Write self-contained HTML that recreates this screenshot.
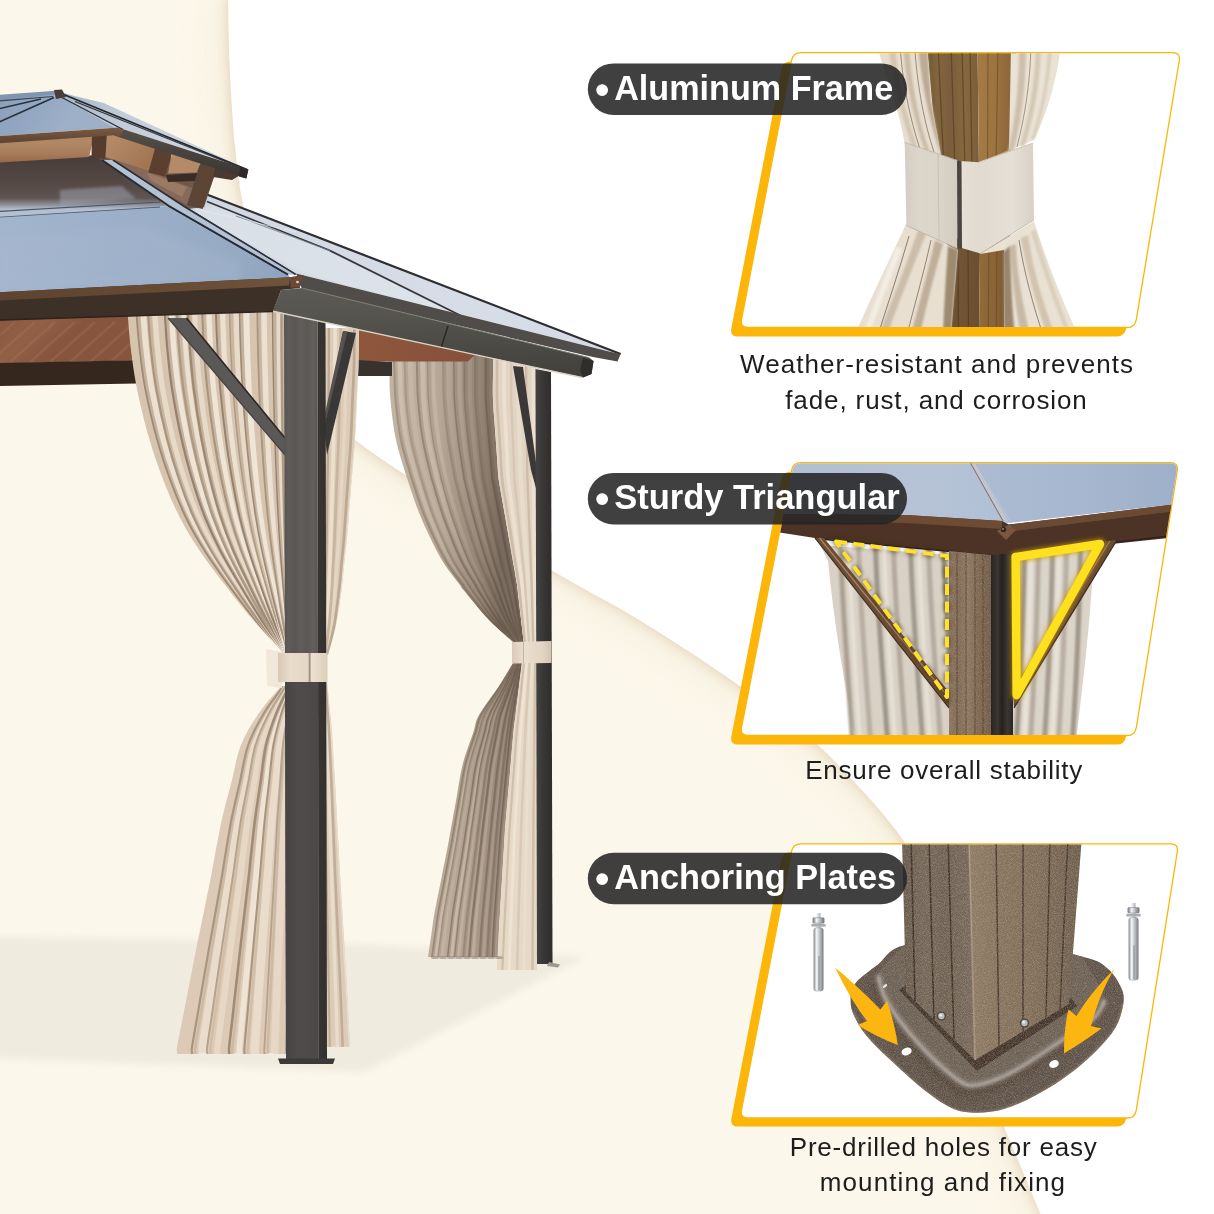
<!DOCTYPE html>
<html lang="en"><head><meta charset="utf-8"><title>Gazebo features</title>
<style>
html,body{margin:0;padding:0;background:#fbf7ea;}
body{width:1214px;height:1214px;overflow:hidden;}
svg{display:block;}
text{font-family:"Liberation Sans",sans-serif;}
</style></head><body>
<svg width="1214" height="1214" viewBox="0 0 1214 1214">
<defs>
<filter id="wblur" x="-30%" y="-30%" width="160%" height="160%"><feGaussianBlur stdDeviation="26"/></filter>
<filter id="wblur2" x="-30%" y="-30%" width="160%" height="160%"><feGaussianBlur stdDeviation="7"/></filter>
<filter id="sblur" x="-10%" y="-20%" width="120%" height="140%"><feGaussianBlur stdDeviation="3.5"/></filter>
<filter id="b1"><feGaussianBlur stdDeviation="0.7"/></filter>
<filter id="b2"><feGaussianBlur stdDeviation="1.6"/></filter>
<filter id="b4"><feGaussianBlur stdDeviation="4"/></filter>
<filter id="b8"><feGaussianBlur stdDeviation="9"/></filter>
<linearGradient id="wd1" gradientUnits="userSpaceOnUse" x1="0" y1="322" x2="40" y2="364"><stop offset="0" stop-color="#8a5740"/><stop offset="0.5" stop-color="#925f47"/><stop offset="1" stop-color="#87543e"/></linearGradient>
<clipPath id="cwd1"><polygon points="-2,322 128.5,319 132.5,360.5 -2,363.5"/></clipPath>
<clipPath id="cbk1"><path d="M388.0,341.0 C388.1,341.7 388.0,339.8 388.2,345.0 C388.4,350.2 389.0,363.3 389.4,372.5 C389.7,381.7 389.4,388.8 390.5,400.0 C391.6,411.2 393.2,427.0 396.0,440.0 C398.8,453.0 405.1,471.5 407.0,478.0 C408.9,484.5 405.2,472.8 407.4,479.0 C409.5,485.2 414.5,501.8 420.0,515.0 C425.5,528.2 434.0,546.4 440.6,558.0 C447.2,569.6 455.7,579.2 459.6,584.5 C463.4,589.8 458.9,584.4 463.5,590.0 C468.1,595.6 478.8,609.3 487.0,618.0 C495.2,626.7 508.7,638.0 513.0,642.0 L523.7,642.0 C523.2,638.0 521.9,626.7 520.9,618.0 C519.9,609.3 518.3,595.6 517.6,590.0 C517.0,584.4 517.9,589.8 517.0,584.5 C516.1,579.2 514.4,569.6 512.4,558.0 C510.4,546.4 507.2,528.2 504.9,515.0 C502.6,501.8 499.7,485.2 498.6,479.0 C497.5,472.8 499.0,484.5 498.5,478.0 C498.1,471.5 496.8,453.0 495.8,440.0 C494.9,427.0 493.5,411.2 493.0,400.0 C492.5,388.8 493.0,381.7 493.0,372.5 C493.0,363.3 493.0,350.2 493.0,345.0 C493.0,339.8 493.0,341.7 493.0,341.0 Z"/></clipPath>
<linearGradient id="shbk1" gradientUnits="userSpaceOnUse" x1="388" y1="0" x2="500" y2="0"><stop offset="0" stop-color="rgba(90,72,58,0)"/><stop offset="0.45" stop-color="rgba(90,72,58,0.12)"/><stop offset="0.8" stop-color="rgba(80,64,52,0.42)"/><stop offset="1" stop-color="rgba(70,56,46,0.62)"/></linearGradient>
<clipPath id="cbk2"><path d="M493.0,350.0 C493.0,354.2 493.0,366.7 493.0,375.0 C493.0,383.3 492.7,391.4 493.0,400.0 C493.3,408.6 494.2,417.6 494.9,426.3 C495.5,435.1 496.1,443.9 496.7,452.7 C497.4,461.4 497.5,470.2 498.6,479.0 C499.7,487.8 501.7,496.6 503.2,505.4 C504.7,514.2 506.3,523.0 507.8,531.8 C509.3,540.5 510.9,549.3 512.4,558.1 C513.9,566.9 515.7,575.3 517.0,584.5 C518.3,593.7 519.2,603.7 520.4,613.2 C521.5,622.8 523.1,637.2 523.7,642.0 L536.0,642.0 C536.0,637.2 536.0,622.8 536.0,613.2 C536.0,603.7 536.0,593.7 536.0,584.5 C536.0,575.3 536.0,566.9 536.0,558.1 C536.0,549.3 536.0,540.5 536.0,531.8 C536.0,523.0 536.0,514.2 536.0,505.4 C536.0,496.6 536.0,487.8 536.0,479.0 C536.0,470.2 536.0,461.4 536.0,452.7 C536.0,443.9 536.0,435.1 536.0,426.3 C536.0,417.6 536.0,408.6 536.0,400.0 C536.0,391.4 536.0,383.3 536.0,375.0 C536.0,366.7 536.0,354.2 536.0,350.0 Z"/></clipPath>
<linearGradient id="wd2" gradientUnits="userSpaceOnUse" x1="358" y1="330" x2="470" y2="360"><stop offset="0" stop-color="#8f573c"/><stop offset="1" stop-color="#86503a"/></linearGradient>
<clipPath id="cbk3"><path d="M513.5,662.0 C511.1,666.0 504.8,677.2 499.0,686.0 C493.2,694.8 483.3,707.3 479.0,715.0 C474.7,722.7 476.1,723.7 473.4,732.0 C470.6,740.3 465.3,754.1 462.5,765.0 C459.7,775.9 458.6,786.7 456.6,797.5 C454.6,808.3 452.2,821.8 450.7,830.0 C449.2,838.2 449.2,838.7 447.6,847.0 C446.0,855.3 443.2,869.0 441.1,880.0 C438.9,891.0 436.0,904.8 434.5,913.0 C433.0,921.2 433.2,921.7 432.1,929.0 C431.1,936.3 428.7,952.3 428.0,957.0 L498.0,957.0 C498.2,952.3 498.7,936.3 499.0,929.0 C499.3,921.7 499.5,921.2 500.0,913.0 C500.5,904.8 501.3,891.0 502.0,880.0 C502.6,869.0 503.5,855.3 504.0,847.0 C504.5,838.7 504.4,838.2 505.0,830.0 C505.6,821.8 506.9,808.3 507.8,797.5 C508.8,786.7 509.7,775.9 510.6,765.0 C511.6,754.1 512.7,740.3 513.5,732.0 C514.3,723.7 514.6,722.7 515.6,715.0 C516.5,707.3 518.0,694.8 519.1,686.0 C520.2,677.2 521.5,666.0 522.0,662.0 Z"/></clipPath>
<linearGradient id="shbk3" gradientUnits="userSpaceOnUse" x1="428" y1="0" x2="522" y2="0"><stop offset="0" stop-color="rgba(90,72,58,0)"/><stop offset="0.4" stop-color="rgba(90,72,58,0.15)"/><stop offset="0.8" stop-color="rgba(80,64,52,0.4)"/><stop offset="1" stop-color="rgba(70,56,46,0.55)"/></linearGradient>
<clipPath id="cbk4"><path d="M522.0,662.0 C521.3,667.8 519.2,685.3 517.8,697.0 C516.3,708.7 514.7,720.7 513.5,732.0 C512.3,743.3 511.6,753.8 510.7,764.7 C509.7,775.6 508.8,786.4 507.8,797.3 C506.9,808.2 505.8,819.1 505.0,830.0 C504.2,840.9 503.7,852.0 503.0,863.0 C502.3,874.0 501.7,885.0 501.0,896.0 C500.3,907.0 499.7,916.7 499.0,929.0 C498.3,941.3 497.3,963.2 497.0,970.0 L537.0,970.0 C537.0,963.2 537.0,941.3 537.0,929.0 C537.0,916.7 537.0,907.0 537.0,896.0 C537.0,885.0 537.0,874.0 537.0,863.0 C537.0,852.0 537.0,840.9 537.0,830.0 C537.0,819.1 537.0,808.2 537.0,797.3 C537.0,786.4 537.0,775.6 537.0,764.7 C537.0,753.8 537.0,743.3 537.0,732.0 C537.0,720.7 537.0,708.7 537.0,697.0 C537.0,685.3 537.0,667.8 537.0,662.0 Z"/></clipPath>
<clipPath id="csd1"><path d="M322.0,328.0 C322.0,328.3 322.0,323.8 322.0,330.0 C322.0,336.2 322.0,353.0 322.0,365.0 C322.0,377.0 322.0,389.7 322.0,402.0 C322.0,414.3 322.0,427.8 322.0,439.0 C322.0,450.2 322.0,459.3 322.0,469.5 C322.0,479.7 322.0,488.6 322.0,500.0 C322.0,511.4 322.0,527.3 322.0,538.0 C322.0,548.7 322.0,555.3 322.0,564.0 C322.0,572.7 322.0,579.8 322.0,590.0 C322.0,600.2 322.0,614.2 322.0,625.0 C322.0,635.8 322.0,650.0 322.0,655.0 L328.0,655.0 C329.3,650.0 333.8,635.8 336.0,625.0 C338.2,614.2 340.1,600.2 341.5,590.0 C342.9,579.8 343.3,572.7 344.2,564.0 C345.2,555.3 346.0,548.7 347.0,538.0 C348.0,527.3 349.1,511.4 350.0,500.0 C350.9,488.6 351.7,479.7 352.5,469.5 C353.3,459.3 354.3,450.2 355.0,439.0 C355.7,427.8 356.2,414.3 356.8,402.0 C357.3,389.7 358.1,377.0 358.5,365.0 C358.9,353.0 358.9,336.2 359.0,330.0 C359.1,323.8 359.0,328.3 359.0,328.0 Z"/></clipPath>
<clipPath id="csd2"><path d="M320.0,681.0 C320.0,685.3 320.0,698.3 320.0,707.0 C320.0,715.7 320.0,720.5 320.0,733.0 C320.0,745.5 320.0,770.8 320.0,782.0 C320.0,793.2 320.0,790.8 320.0,800.0 C320.0,809.2 320.0,824.7 320.0,837.0 C320.0,849.3 320.0,862.7 320.0,874.0 C320.0,885.3 320.0,894.7 320.0,905.0 C320.0,915.3 320.0,925.7 320.0,936.0 C320.0,946.3 320.0,956.7 320.0,967.0 C320.0,977.3 320.0,984.7 320.0,998.0 C320.0,1011.3 320.0,1038.8 320.0,1047.0 L350.0,1047.0 C349.6,1038.8 348.2,1011.3 347.5,998.0 C346.8,984.7 346.2,977.3 345.6,967.0 C345.0,956.7 344.4,946.3 343.8,936.0 C343.1,925.7 342.5,915.3 341.9,905.0 C341.2,894.7 340.6,885.3 340.0,874.0 C339.4,862.7 338.7,849.3 338.0,837.0 C337.3,824.7 336.5,809.2 336.0,800.0 C335.5,790.8 335.7,793.2 335.0,782.0 C334.3,770.8 332.9,745.5 332.0,733.0 C331.1,720.5 330.3,715.7 329.5,707.0 C328.7,698.3 327.4,685.3 327.0,681.0 Z"/></clipPath>
<clipPath id="cfr1"><path d="M128.0,312.0 C128.0,313.0 127.5,311.7 128.0,318.0 C128.5,324.3 129.5,338.2 131.0,350.0 C132.5,361.8 134.0,374.3 137.0,389.0 C140.0,403.7 144.6,422.8 149.0,438.0 C153.4,453.2 158.2,466.8 163.3,480.0 C168.4,493.2 173.7,505.4 179.6,517.0 C185.5,528.6 191.6,538.6 199.0,549.7 C206.4,560.8 214.9,571.9 224.0,583.7 C233.1,595.6 244.5,610.1 253.7,620.8 C262.9,631.5 274.4,642.6 279.0,648.0 C283.6,653.4 280.7,652.2 281.0,653.0 L290.0,653.0 C290.0,652.2 290.0,653.4 290.0,648.0 C290.0,642.6 290.0,631.5 290.0,620.8 C290.0,610.1 290.0,595.6 290.0,583.7 C290.0,571.9 290.0,560.8 290.0,549.7 C290.0,538.6 290.0,528.6 290.0,517.0 C290.0,505.4 290.0,493.2 290.0,480.0 C290.0,466.8 290.0,453.2 290.0,438.0 C290.0,422.8 290.0,403.7 290.0,389.0 C290.0,374.3 290.0,361.8 290.0,350.0 C290.0,338.2 290.0,324.3 290.0,318.0 C290.0,311.7 290.0,313.0 290.0,312.0 Z"/></clipPath>
<clipPath id="cfr2"><path d="M281.0,686.0 C277.3,690.5 265.7,703.2 259.0,713.0 C252.3,722.8 245.6,733.5 241.0,745.0 C236.4,756.5 234.7,769.7 231.5,782.0 C228.3,794.3 224.9,806.0 222.0,819.0 C219.1,832.0 215.8,850.8 214.0,860.0 C212.2,869.2 212.9,866.9 211.5,874.0 C210.1,881.1 207.6,893.1 205.7,902.7 C203.7,912.2 201.8,921.8 199.8,931.3 C197.9,940.9 195.9,950.4 194.0,960.0 C192.1,969.6 190.2,979.3 188.3,989.0 C186.4,998.7 184.6,1008.3 182.7,1018.0 C180.8,1027.7 177.9,1041.3 177.0,1047.0 C176.1,1052.7 177.0,1050.8 177.0,1052.0 C177.0,1053.2 177.0,1053.7 177.0,1054.0 L300.0,1054.0 C300.0,1053.7 300.0,1053.2 300.0,1052.0 C300.0,1050.8 300.0,1052.7 300.0,1047.0 C300.0,1041.3 300.0,1027.7 300.0,1018.0 C300.0,1008.3 300.0,998.7 300.0,989.0 C300.0,979.3 300.0,969.6 300.0,960.0 C300.0,950.4 300.0,940.9 300.0,931.3 C300.0,921.8 300.0,912.2 300.0,902.7 C300.0,893.1 300.0,881.1 300.0,874.0 C300.0,866.9 300.0,869.2 300.0,860.0 C300.0,850.8 300.0,832.0 300.0,819.0 C300.0,806.0 300.0,794.3 300.0,782.0 C300.0,769.7 300.0,756.5 300.0,745.0 C300.0,733.5 300.0,722.8 300.0,713.0 C300.0,703.2 300.0,690.5 300.0,686.0 Z"/></clipPath>
<linearGradient id="bp" gradientUnits="userSpaceOnUse" x1="535" y1="0" x2="552" y2="0"><stop offset="0" stop-color="#474543"/><stop offset="0.45" stop-color="#3a3836"/><stop offset="1" stop-color="#2f2d2c"/></linearGradient>
<linearGradient id="tb" gradientUnits="userSpaceOnUse" x1="512" y1="0" x2="552" y2="0"><stop offset="0" stop-color="#d9cab7"/><stop offset="0.3" stop-color="#ebdfcf"/><stop offset="0.75" stop-color="#e3d5c3"/><stop offset="1" stop-color="#d2c2ae"/></linearGradient>
<linearGradient id="mp1" gradientUnits="userSpaceOnUse" x1="284" y1="0" x2="318" y2="0"><stop offset="0" stop-color="#55524f"/><stop offset="0.12" stop-color="#5f5c5a"/><stop offset="0.3" stop-color="#595654"/><stop offset="0.5" stop-color="#605d5b"/><stop offset="0.68" stop-color="#5a5755"/><stop offset="0.85" stop-color="#625f5d"/><stop offset="1" stop-color="#5a5755"/></linearGradient>
<linearGradient id="mp2" gradientUnits="userSpaceOnUse" x1="317" y1="0" x2="327" y2="0"><stop offset="0" stop-color="#393533"/><stop offset="1" stop-color="#34302e"/></linearGradient>
<linearGradient id="mp3" gradientUnits="userSpaceOnUse" x1="285" y1="0" x2="318" y2="0"><stop offset="0" stop-color="#474443"/><stop offset="0.4" stop-color="#4e4b4a"/><stop offset="1" stop-color="#4b4847"/></linearGradient>
<linearGradient id="tf" gradientUnits="userSpaceOnUse" x1="278" y1="0" x2="328" y2="0"><stop offset="0" stop-color="#d8c9b6"/><stop offset="0.25" stop-color="#e9dccb"/><stop offset="0.6" stop-color="#e4d6c4"/><stop offset="0.64" stop-color="#8a7a68"/><stop offset="0.66" stop-color="#ece1d2"/><stop offset="1" stop-color="#dccdba"/></linearGradient>
<linearGradient id="rfR" gradientUnits="userSpaceOnUse" x1="210" y1="200" x2="600" y2="350"><stop offset="0" stop-color="#cfd7e1"/><stop offset="0.35" stop-color="#d4dbe4"/><stop offset="0.7" stop-color="#d6dde6"/><stop offset="1" stop-color="#d4dbe5"/></linearGradient>
<linearGradient id="rfF" gradientUnits="userSpaceOnUse" x1="0" y1="215" x2="280" y2="290"><stop offset="0" stop-color="#a3b5cd"/><stop offset="0.35" stop-color="#9db0c9"/><stop offset="0.6" stop-color="#99adc6"/><stop offset="0.85" stop-color="#95a9c3"/><stop offset="1" stop-color="#90a4c0"/></linearGradient>
<linearGradient id="rfF2" gradientUnits="userSpaceOnUse" x1="0" y1="230" x2="0" y2="292"><stop offset="0" stop-color="#a9bad0"/><stop offset="1" stop-color="#adbdd3"/></linearGradient>
<linearGradient id="cup" gradientUnits="userSpaceOnUse" x1="0" y1="160" x2="0" y2="216"><stop offset="0" stop-color="#493e39"/><stop offset="0.45" stop-color="#564a46"/><stop offset="0.68" stop-color="#5f5552"/><stop offset="0.8" stop-color="#8e9099"/><stop offset="0.88" stop-color="#b3bfcf"/><stop offset="1" stop-color="#b3c0d1"/></linearGradient>
<linearGradient id="uw" gradientUnits="userSpaceOnUse" x1="0" y1="143" x2="0" y2="162"><stop offset="0" stop-color="#b18865"/><stop offset="0.6" stop-color="#a57b5a"/><stop offset="1" stop-color="#96694a"/></linearGradient>
<linearGradient id="uw2" gradientUnits="userSpaceOnUse" x1="107" y1="137" x2="140" y2="170"><stop offset="0" stop-color="#b58c69"/><stop offset="1" stop-color="#a27653"/></linearGradient>
<linearGradient id="urF" gradientUnits="userSpaceOnUse" x1="0" y1="95" x2="60" y2="135"><stop offset="0" stop-color="#8aa0bc"/><stop offset="0.5" stop-color="#93a7c2"/><stop offset="1" stop-color="#9eb0c8"/></linearGradient>
<linearGradient id="urR" gradientUnits="userSpaceOnUse" x1="70" y1="95" x2="240" y2="168"><stop offset="0" stop-color="#a9b8cb"/><stop offset="0.3" stop-color="#c2ccd8"/><stop offset="1" stop-color="#d3dae3"/></linearGradient>
<linearGradient id="urFr" gradientUnits="objectBoundingBox" x1="0" y1="0" x2="0" y2="1"><stop offset="0" stop-color="#57504a"/><stop offset="1" stop-color="#3a3532"/></linearGradient>
<linearGradient id="urS" gradientUnits="userSpaceOnUse" x1="0" y1="128" x2="0" y2="144"><stop offset="0" stop-color="#7a5a42"/><stop offset="1" stop-color="#5c412f"/></linearGradient>
<linearGradient id="gut" gradientUnits="objectBoundingBox" x1="0" y1="0" x2="0.06" y2="1"><stop offset="0" stop-color="#5b5a55"/><stop offset="0.3" stop-color="#56554f"/><stop offset="0.62" stop-color="#4d4c47"/><stop offset="1" stop-color="#42413d"/></linearGradient>
<linearGradient id="fas" gradientUnits="objectBoundingBox" x1="0" y1="0" x2="1" y2="0"><stop offset="0" stop-color="#5d4430"/><stop offset="0.6" stop-color="#674b35"/><stop offset="1" stop-color="#70533a"/></linearGradient>
<filter id="p1"><feGaussianBlur stdDeviation="0.8"/></filter>
<filter id="p2"><feGaussianBlur stdDeviation="2"/></filter>
<filter id="p5"><feGaussianBlur stdDeviation="5"/></filter>
<filter id="grain" x="0" y="0" width="100%" height="100%"><feTurbulence type="fractalNoise" baseFrequency="1.1" numOctaves="2" seed="3" result="n"/><feColorMatrix in="n" type="matrix" values="0 0 0 0 0  0 0 0 0 0  0 0 0 0 0  0 0 0 -1.6 1.05" result="a"/><feComposite in="SourceGraphic" in2="a" operator="in"/></filter>
<clipPath id="pc1"><path d="M792.3,60.6 Q793.7,53.2 801.2,53.2 L1172.4,53.2 Q1179.9,53.2 1178.7,60.6 L1135.5,319.5 Q1134.3,326.9 1126.8,326.9 L748.2,326.9 Q740.7,326.9 742.1,319.5 Z"/></clipPath>
<linearGradient id="q1a" gradientUnits="userSpaceOnUse" x1="927" y1="0" x2="978" y2="0"><stop offset="0" stop-color="#6f5636"/><stop offset="0.2" stop-color="#83663f"/><stop offset="0.45" stop-color="#7a5e3a"/><stop offset="0.75" stop-color="#87693f"/><stop offset="1" stop-color="#7b5f3a"/></linearGradient>
<linearGradient id="q1b" gradientUnits="userSpaceOnUse" x1="977" y1="0" x2="1015" y2="0"><stop offset="0" stop-color="#a57c45"/><stop offset="0.5" stop-color="#9b733f"/><stop offset="1" stop-color="#86623a"/></linearGradient>
<linearGradient id="q1c" gradientUnits="userSpaceOnUse" x1="947" y1="0" x2="980" y2="0"><stop offset="0" stop-color="#644a2d"/><stop offset="0.4" stop-color="#715434"/><stop offset="1" stop-color="#6a4e30"/></linearGradient>
<linearGradient id="q1d" gradientUnits="userSpaceOnUse" x1="980" y1="0" x2="1008" y2="0"><stop offset="0" stop-color="#906a39"/><stop offset="0.5" stop-color="#8a6436"/><stop offset="1" stop-color="#775631"/></linearGradient>
<linearGradient id="tie1" gradientUnits="userSpaceOnUse" x1="905" y1="0" x2="958" y2="0"><stop offset="0" stop-color="#d6cec3"/><stop offset="0.3" stop-color="#ddd6cb"/><stop offset="0.7" stop-color="#dad3c8"/><stop offset="1" stop-color="#d3cbbf"/></linearGradient>
<linearGradient id="tie2" gradientUnits="userSpaceOnUse" x1="960" y1="0" x2="1034" y2="0"><stop offset="0" stop-color="#e6e0d7"/><stop offset="0.25" stop-color="#e1dad0"/><stop offset="0.7" stop-color="#e5dfd5"/><stop offset="1" stop-color="#d9d1c5"/></linearGradient>
<clipPath id="pc2"><path d="M792.3,470.6 Q793.7,463.2 801.2,463.2 L1170.4,463.2 Q1177.9,463.2 1176.7,470.6 L1135.5,727.5 Q1134.3,734.9 1126.8,734.9 L748.2,734.9 Q740.7,734.9 742.1,727.5 Z"/></clipPath>
<linearGradient id="g2a" gradientUnits="userSpaceOnUse" x1="790" y1="0" x2="1000" y2="0"><stop offset="0" stop-color="#b1bfd3"/><stop offset="0.6" stop-color="#b6c3d7"/><stop offset="1" stop-color="#b2c0d5"/></linearGradient>
<linearGradient id="g2b" gradientUnits="userSpaceOnUse" x1="970" y1="0" x2="1180" y2="0"><stop offset="0" stop-color="#adbcd2"/><stop offset="0.5" stop-color="#a7b7cf"/><stop offset="1" stop-color="#9eafc9"/></linearGradient>
<linearGradient id="q2a" gradientUnits="userSpaceOnUse" x1="949" y1="0" x2="991" y2="0"><stop offset="0" stop-color="#8a7560"/><stop offset="0.2" stop-color="#7d6853"/><stop offset="0.45" stop-color="#8b7661"/><stop offset="0.7" stop-color="#7a6550"/><stop offset="1" stop-color="#6e5a47"/></linearGradient>
<linearGradient id="q2b" gradientUnits="userSpaceOnUse" x1="991" y1="0" x2="1013" y2="0"><stop offset="0" stop-color="#2a2522"/><stop offset="0.3" stop-color="#3b3531"/><stop offset="0.5" stop-color="#25211f"/><stop offset="0.75" stop-color="#3d3733"/><stop offset="1" stop-color="#2b2623"/></linearGradient>
<filter id="glow" x="-20%" y="-20%" width="140%" height="140%"><feGaussianBlur stdDeviation="2.2"/></filter>
<clipPath id="pc3"><path d="M792.3,851.8 Q793.7,844.4 801.2,844.4 L1170.4,844.4 Q1177.9,844.4 1176.7,851.8 L1135.5,1110.0 Q1134.3,1117.4 1126.8,1117.4 L748.2,1117.4 Q740.7,1117.4 742.1,1110.0 Z"/></clipPath>
<clipPath id="cplate"><path d="M850.5,996.0 C851.5,993.7 851.8,987.3 856.4,982.0 C861.0,976.7 869.8,970.6 878.0,964.4 C886.2,958.2 887.1,949.1 905.8,944.7 C924.5,940.3 960.7,936.0 990.0,938.0 C1019.3,940.0 1062.2,951.4 1081.8,956.5 C1101.4,961.6 1100.9,963.1 1107.5,968.4 C1114.1,973.6 1118.7,982.1 1121.3,988.0 C1123.9,993.9 1124.3,997.4 1123.3,1004.0 C1122.3,1010.6 1120.0,1019.8 1115.4,1027.7 C1110.8,1035.6 1103.5,1043.5 1095.6,1051.4 C1087.7,1059.3 1077.9,1067.7 1068.0,1075.0 C1058.1,1082.3 1046.8,1089.4 1036.3,1095.0 C1025.8,1100.6 1014.6,1105.8 1004.7,1108.8 C994.8,1111.8 985.6,1112.7 977.0,1112.7 C968.4,1112.7 961.9,1112.4 953.3,1108.8 C944.7,1105.2 935.5,1098.6 925.6,1091.0 C915.7,1083.4 903.9,1072.5 894.0,1063.3 C884.1,1054.1 873.2,1044.2 866.3,1035.6 C859.4,1027.0 855.1,1018.5 852.5,1011.9 C849.9,1005.3 850.8,998.6 850.5,996.0 Z"/></clipPath>
<linearGradient id="q3a" gradientUnits="userSpaceOnUse" x1="902" y1="0" x2="975" y2="0"><stop offset="0" stop-color="#64574b"/><stop offset="0.3" stop-color="#716457"/><stop offset="0.6" stop-color="#6c5f52"/><stop offset="1" stop-color="#75685a"/></linearGradient>
<linearGradient id="q3b" gradientUnits="userSpaceOnUse" x1="970" y1="0" x2="1080" y2="0"><stop offset="0" stop-color="#8c7a64"/><stop offset="0.25" stop-color="#84725c"/><stop offset="0.6" stop-color="#7c6b56"/><stop offset="1" stop-color="#6b5c4c"/></linearGradient>
<linearGradient id="an818" gradientUnits="userSpaceOnUse" x1="813.75" y1="0" x2="823.25" y2="0"><stop offset="0" stop-color="#8e9196"/><stop offset="0.3" stop-color="#f4f5f6"/><stop offset="0.55" stop-color="#c9ccd0"/><stop offset="1" stop-color="#7e8186"/></linearGradient>
<linearGradient id="an1133" gradientUnits="userSpaceOnUse" x1="1128.75" y1="0" x2="1138.25" y2="0"><stop offset="0" stop-color="#8e9196"/><stop offset="0.3" stop-color="#f4f5f6"/><stop offset="0.55" stop-color="#c9ccd0"/><stop offset="1" stop-color="#7e8186"/></linearGradient>
</defs>
<rect width="1214" height="1214" fill="#fbf7ea"/>
<path d="M228.0,-5.0 C228.2,5.8 228.7,41.0 229.4,60.0 C230.1,79.0 231.1,94.6 232.0,109.0 C232.9,123.4 233.8,134.0 235.0,146.5 C236.2,159.0 237.6,172.6 239.3,184.0 C241.0,195.4 242.2,200.7 245.0,215.0 C247.8,229.3 251.0,250.0 256.0,270.0 C261.0,290.0 266.8,314.2 275.0,335.0 C283.2,355.8 291.7,377.6 305.0,395.0 C318.3,412.4 338.2,426.3 354.7,439.5 C371.2,452.7 383.4,460.2 404.0,474.0 C424.6,487.8 453.3,505.9 478.0,522.0 C502.7,538.1 527.2,555.4 552.0,570.5 C576.8,585.6 604.3,599.4 626.5,612.5 C648.7,625.6 667.1,637.4 685.0,649.0 C702.9,660.6 719.0,671.5 734.0,682.0 C749.0,692.5 761.2,701.7 775.0,712.0 C788.8,722.3 804.2,733.2 816.6,744.0 C829.0,754.8 838.5,765.4 849.5,777.0 C860.5,788.6 872.6,801.3 882.5,813.5 C892.4,825.7 901.9,836.8 909.0,850.0 C916.1,863.2 920.3,878.0 925.0,893.0 C929.7,908.0 933.0,924.7 937.0,940.0 C941.0,955.3 943.5,967.5 949.0,985.0 C954.5,1002.5 961.9,1023.8 970.0,1045.0 C978.1,1066.2 985.6,1082.8 997.8,1112.0 C1010.0,1141.2 1035.5,1202.0 1043.0,1220.0 L1224,1224 L1224,-10 Z" fill="#ecdcc2" filter="url(#wblur)" opacity="0.45"/>
<path d="M228.0,-5.0 C228.2,5.8 228.7,41.0 229.4,60.0 C230.1,79.0 231.1,94.6 232.0,109.0 C232.9,123.4 233.8,134.0 235.0,146.5 C236.2,159.0 237.6,172.6 239.3,184.0 C241.0,195.4 242.2,200.7 245.0,215.0 C247.8,229.3 251.0,250.0 256.0,270.0 C261.0,290.0 266.8,314.2 275.0,335.0 C283.2,355.8 291.7,377.6 305.0,395.0 C318.3,412.4 338.2,426.3 354.7,439.5 C371.2,452.7 383.4,460.2 404.0,474.0 C424.6,487.8 453.3,505.9 478.0,522.0 C502.7,538.1 527.2,555.4 552.0,570.5 C576.8,585.6 604.3,599.4 626.5,612.5 C648.7,625.6 667.1,637.4 685.0,649.0 C702.9,660.6 719.0,671.5 734.0,682.0 C749.0,692.5 761.2,701.7 775.0,712.0 C788.8,722.3 804.2,733.2 816.6,744.0 C829.0,754.8 838.5,765.4 849.5,777.0 C860.5,788.6 872.6,801.3 882.5,813.5 C892.4,825.7 901.9,836.8 909.0,850.0 C916.1,863.2 920.3,878.0 925.0,893.0 C929.7,908.0 933.0,924.7 937.0,940.0 C941.0,955.3 943.5,967.5 949.0,985.0 C954.5,1002.5 961.9,1023.8 970.0,1045.0 C978.1,1066.2 985.6,1082.8 997.8,1112.0 C1010.0,1141.2 1035.5,1202.0 1043.0,1220.0 L1224,1224 L1224,-10 Z" fill="#e0ccb0" filter="url(#wblur2)" opacity="0.95"/>
<path d="M228.0,-5.0 C228.2,5.8 228.7,41.0 229.4,60.0 C230.1,79.0 231.1,94.6 232.0,109.0 C232.9,123.4 233.8,134.0 235.0,146.5 C236.2,159.0 237.6,172.6 239.3,184.0 C241.0,195.4 242.2,200.7 245.0,215.0 C247.8,229.3 251.0,250.0 256.0,270.0 C261.0,290.0 266.8,314.2 275.0,335.0 C283.2,355.8 291.7,377.6 305.0,395.0 C318.3,412.4 338.2,426.3 354.7,439.5 C371.2,452.7 383.4,460.2 404.0,474.0 C424.6,487.8 453.3,505.9 478.0,522.0 C502.7,538.1 527.2,555.4 552.0,570.5 C576.8,585.6 604.3,599.4 626.5,612.5 C648.7,625.6 667.1,637.4 685.0,649.0 C702.9,660.6 719.0,671.5 734.0,682.0 C749.0,692.5 761.2,701.7 775.0,712.0 C788.8,722.3 804.2,733.2 816.6,744.0 C829.0,754.8 838.5,765.4 849.5,777.0 C860.5,788.6 872.6,801.3 882.5,813.5 C892.4,825.7 901.9,836.8 909.0,850.0 C916.1,863.2 920.3,878.0 925.0,893.0 C929.7,908.0 933.0,924.7 937.0,940.0 C941.0,955.3 943.5,967.5 949.0,985.0 C954.5,1002.5 961.9,1023.8 970.0,1045.0 C978.1,1066.2 985.6,1082.8 997.8,1112.0 C1010.0,1141.2 1035.5,1202.0 1043.0,1220.0 L1224,1224 L1224,-10 Z" fill="#ffffff"/>
<polygon points="-10.0,937.0 300.0,941.0 585.0,957.0 364.0,1072.0 -10.0,1058.0" fill="#efebdf" filter="url(#sblur)"/>
<g id="gazebo">
<polygon points="-2.0,318.0 128.5,315.0 132.5,360.5 -2.0,363.5" fill="url(#wd1)" />
<line x1="-30.0" y1="362.0" x2="15.0" y2="322.0" stroke="#a87a60" stroke-width="3" opacity="0.3" clip-path="url(#cwd1)"/>
<line x1="-10.0" y1="362.0" x2="35.0" y2="322.0" stroke="#a87a60" stroke-width="3" opacity="0.3" clip-path="url(#cwd1)"/>
<line x1="10.0" y1="362.0" x2="55.0" y2="322.0" stroke="#a87a60" stroke-width="3" opacity="0.3" clip-path="url(#cwd1)"/>
<line x1="30.0" y1="362.0" x2="75.0" y2="322.0" stroke="#a87a60" stroke-width="3" opacity="0.3" clip-path="url(#cwd1)"/>
<line x1="50.0" y1="362.0" x2="95.0" y2="322.0" stroke="#a87a60" stroke-width="3" opacity="0.3" clip-path="url(#cwd1)"/>
<line x1="70.0" y1="362.0" x2="115.0" y2="322.0" stroke="#a87a60" stroke-width="3" opacity="0.3" clip-path="url(#cwd1)"/>
<line x1="90.0" y1="362.0" x2="135.0" y2="322.0" stroke="#a87a60" stroke-width="3" opacity="0.3" clip-path="url(#cwd1)"/>
<line x1="110.0" y1="362.0" x2="155.0" y2="322.0" stroke="#a87a60" stroke-width="3" opacity="0.3" clip-path="url(#cwd1)"/>
<line x1="130.0" y1="362.0" x2="175.0" y2="322.0" stroke="#a87a60" stroke-width="3" opacity="0.3" clip-path="url(#cwd1)"/>
<polygon points="-2.0,363.0 133.0,360.3 137.0,382.0 142.0,390.5 136.0,383.5 -2.0,386.0" fill="#35261e" />
<path d="M388.0,341.0 C388.1,341.7 388.0,339.8 388.2,345.0 C388.4,350.2 389.0,363.3 389.4,372.5 C389.7,381.7 389.4,388.8 390.5,400.0 C391.6,411.2 393.2,427.0 396.0,440.0 C398.8,453.0 405.1,471.5 407.0,478.0 C408.9,484.5 405.2,472.8 407.4,479.0 C409.5,485.2 414.5,501.8 420.0,515.0 C425.5,528.2 434.0,546.4 440.6,558.0 C447.2,569.6 455.7,579.2 459.6,584.5 C463.4,589.8 458.9,584.4 463.5,590.0 C468.1,595.6 478.8,609.3 487.0,618.0 C495.2,626.7 508.7,638.0 513.0,642.0 L523.7,642.0 C523.2,638.0 521.9,626.7 520.9,618.0 C519.9,609.3 518.3,595.6 517.6,590.0 C517.0,584.4 517.9,589.8 517.0,584.5 C516.1,579.2 514.4,569.6 512.4,558.0 C510.4,546.4 507.2,528.2 504.9,515.0 C502.6,501.8 499.7,485.2 498.6,479.0 C497.5,472.8 499.0,484.5 498.5,478.0 C498.1,471.5 496.8,453.0 495.8,440.0 C494.9,427.0 493.5,411.2 493.0,400.0 C492.5,388.8 493.0,381.7 493.0,372.5 C493.0,363.3 493.0,350.2 493.0,345.0 C493.0,339.8 493.0,341.7 493.0,341.0 Z" fill="#c3b4a3"/>
<g clip-path="url(#cbk1)"><g filter="url(#b1)">
<path d="M399.0,341.0 C399.0,341.7 398.9,339.8 399.1,345.0 C399.3,350.2 399.8,363.3 400.1,372.5 C400.5,381.7 400.1,388.8 401.2,400.0 C402.2,411.2 403.8,427.0 406.4,440.0 C409.0,453.0 414.8,471.5 416.5,478.0 C418.3,484.5 414.8,472.8 416.9,479.0 C418.9,485.2 423.6,501.8 428.8,515.0 C434.0,528.2 442.0,546.4 448.1,558.0 C454.2,569.6 462.0,579.2 465.5,584.5 C469.1,589.8 465.0,584.4 469.1,590.0 C473.3,595.6 483.0,609.3 490.5,618.0 C498.0,626.7 510.2,638.0 514.1,642.0" fill="none" stroke="#d0c2b1" stroke-width="4.2" opacity="1"/>
<path d="M395.0,341.0 C395.0,341.7 395.0,339.8 395.2,345.0 C395.4,350.2 395.9,363.3 396.2,372.5 C396.6,381.7 396.2,388.8 397.3,400.0 C398.4,411.2 400.0,427.0 402.6,440.0 C405.3,453.0 411.3,471.5 413.1,478.0 C414.9,484.5 411.3,472.8 413.4,479.0 C415.5,485.2 420.3,501.8 425.6,515.0 C431.0,528.2 439.1,546.4 445.4,558.0 C451.7,569.6 459.8,579.2 463.4,584.5 C467.0,589.8 462.8,584.4 467.1,590.0 C471.4,595.6 481.5,609.3 489.3,618.0 C497.0,626.7 509.6,638.0 513.7,642.0" fill="none" stroke="#b5a594" stroke-width="2.3" opacity="0.8"/>
<path d="M393.1,341.0 C393.2,341.7 393.1,339.8 393.3,345.0 C393.5,350.2 394.0,363.3 394.4,372.5 C394.8,381.7 394.4,388.8 395.5,400.0 C396.6,411.2 398.2,427.0 400.9,440.0 C403.5,453.0 409.6,471.5 411.4,478.0 C413.3,484.5 409.7,472.8 411.8,479.0 C413.9,485.2 418.7,501.8 424.1,515.0 C429.5,528.2 437.7,546.4 444.1,558.0 C450.5,569.6 458.7,579.2 462.4,584.5 C466.0,589.8 461.7,584.4 466.1,590.0 C470.5,595.6 480.7,609.3 488.6,618.0 C496.5,626.7 509.4,638.0 513.5,642.0" fill="none" stroke="#a39382" stroke-width="2.0" opacity="1"/>
<path d="M409.7,341.0 C409.7,341.7 409.7,339.8 409.8,345.0 C410.0,350.2 410.5,363.3 410.8,372.5 C411.1,381.7 410.7,388.8 411.7,400.0 C412.6,411.2 414.2,427.0 416.6,440.0 C419.0,453.0 424.3,471.5 425.9,478.0 C427.5,484.5 424.3,472.8 426.2,479.0 C428.1,485.2 432.7,501.8 437.5,515.0 C442.4,528.2 449.8,546.4 455.4,558.0 C461.1,569.6 468.2,579.2 471.4,584.5 C474.6,589.8 470.9,584.4 474.7,590.0 C478.4,595.6 487.2,609.3 494.0,618.0 C500.8,626.7 511.7,638.0 515.2,642.0" fill="none" stroke="#cbbcab" stroke-width="5.2" opacity="1"/>
<path d="M405.8,341.0 C405.8,341.7 405.7,339.8 405.9,345.0 C406.1,350.2 406.5,363.3 406.8,372.5 C407.2,381.7 406.8,388.8 407.8,400.0 C408.8,411.2 410.4,427.0 412.8,440.0 C415.3,453.0 420.8,471.5 422.4,478.0 C424.1,484.5 420.8,472.8 422.7,479.0 C424.7,485.2 429.3,501.8 434.3,515.0 C439.3,528.2 446.9,546.4 452.7,558.0 C458.5,569.6 465.9,579.2 469.3,584.5 C472.6,589.8 468.7,584.4 472.6,590.0 C476.5,595.6 485.7,609.3 492.7,618.0 C499.7,626.7 511.1,638.0 514.8,642.0" fill="none" stroke="#b9a998" stroke-width="2.3" opacity="0.8"/>
<path d="M403.9,341.0 C403.9,341.7 403.8,339.8 404.0,345.0 C404.2,350.2 404.7,363.3 405.0,372.5 C405.3,381.7 405.0,388.8 406.0,400.0 C407.0,411.2 408.6,427.0 411.1,440.0 C413.5,453.0 419.1,471.5 420.8,478.0 C422.5,484.5 419.1,472.8 421.1,479.0 C423.1,485.2 427.8,501.8 432.8,515.0 C437.9,528.2 445.5,546.4 451.4,558.0 C457.3,569.6 464.9,579.2 468.2,584.5 C471.6,589.8 467.7,584.4 471.7,590.0 C475.7,595.6 485.0,609.3 492.1,618.0 C499.3,626.7 510.9,638.0 514.6,642.0" fill="none" stroke="#ab9b8a" stroke-width="2.0" opacity="1"/>
<path d="M422.0,341.0 C422.0,341.7 422.0,339.8 422.1,345.0 C422.3,350.2 422.6,363.3 422.9,372.5 C423.2,381.7 422.8,388.8 423.7,400.0 C424.6,411.2 426.1,427.0 428.3,440.0 C430.5,453.0 435.2,471.5 436.6,478.0 C438.0,484.5 435.1,472.8 436.9,479.0 C438.7,485.2 443.0,501.8 447.5,515.0 C452.0,528.2 458.7,546.4 463.8,558.0 C468.9,569.6 475.3,579.2 478.1,584.5 C481.0,589.8 477.7,584.4 481.0,590.0 C484.3,595.6 492.1,609.3 498.0,618.0 C503.9,626.7 513.4,638.0 516.5,642.0" fill="none" stroke="#d3c5b4" stroke-width="4.7" opacity="1"/>
<path d="M418.0,341.0 C418.1,341.7 418.0,339.8 418.2,345.0 C418.3,350.2 418.7,363.3 419.0,372.5 C419.2,381.7 418.9,388.8 419.8,400.0 C420.7,411.2 422.3,427.0 424.5,440.0 C426.8,453.0 431.7,471.5 433.2,478.0 C434.6,484.5 431.6,472.8 433.4,479.0 C435.3,485.2 439.6,501.8 444.3,515.0 C448.9,528.2 455.8,546.4 461.1,558.0 C466.4,569.6 473.0,579.2 476.0,584.5 C479.0,589.8 475.5,584.4 479.0,590.0 C482.4,595.6 490.5,609.3 496.7,618.0 C502.9,626.7 512.8,638.0 516.1,642.0" fill="none" stroke="#b5a594" stroke-width="2.3" opacity="0.8"/>
<path d="M416.2,341.0 C416.2,341.7 416.1,339.8 416.3,345.0 C416.5,350.2 416.9,363.3 417.1,372.5 C417.4,381.7 417.0,388.8 418.0,400.0 C418.9,411.2 420.5,427.0 422.8,440.0 C425.0,453.0 430.0,471.5 431.5,478.0 C433.0,484.5 429.9,472.8 431.8,479.0 C433.7,485.2 438.1,501.8 442.7,515.0 C447.4,528.2 454.5,546.4 459.8,558.0 C465.2,569.6 471.9,579.2 475.0,584.5 C478.0,589.8 474.5,584.4 478.0,590.0 C481.5,595.6 489.8,609.3 496.1,618.0 C502.4,626.7 512.6,638.0 515.9,642.0" fill="none" stroke="#9c8c7b" stroke-width="1.9" opacity="1"/>
<path d="M432.8,341.0 C432.8,341.7 432.8,339.8 432.9,345.0 C433.0,350.2 433.3,363.3 433.5,372.5 C433.8,381.7 433.4,388.8 434.2,400.0 C435.0,411.2 436.6,427.0 438.6,440.0 C440.5,453.0 444.7,471.5 446.0,478.0 C447.3,484.5 444.6,472.8 446.3,479.0 C447.9,485.2 452.0,501.8 456.2,515.0 C460.3,528.2 466.6,546.4 471.2,558.0 C475.8,569.6 481.5,579.2 484.0,584.5 C486.6,589.8 483.7,584.4 486.6,590.0 C489.5,595.6 496.3,609.3 501.5,618.0 C506.6,626.7 514.9,638.0 517.6,642.0" fill="none" stroke="#d0c2b1" stroke-width="3.6" opacity="1"/>
<path d="M428.8,341.0 C428.8,341.7 428.8,339.8 428.9,345.0 C429.1,350.2 429.4,363.3 429.6,372.5 C429.9,381.7 429.5,388.8 430.3,400.0 C431.2,411.2 432.7,427.0 434.8,440.0 C436.8,453.0 441.2,471.5 442.6,478.0 C443.9,484.5 441.1,472.8 442.8,479.0 C444.5,485.2 448.7,501.8 453.0,515.0 C457.3,528.2 463.7,546.4 468.5,558.0 C473.3,569.6 479.2,579.2 481.9,584.5 C484.6,589.8 481.5,584.4 484.5,590.0 C487.6,595.6 494.7,609.3 500.2,618.0 C505.6,626.7 514.3,638.0 517.2,642.0" fill="none" stroke="#b9a998" stroke-width="2.3" opacity="0.8"/>
<path d="M427.0,341.0 C427.0,341.7 426.9,339.8 427.1,345.0 C427.2,350.2 427.5,363.3 427.8,372.5 C428.0,381.7 427.6,388.8 428.5,400.0 C429.4,411.2 430.9,427.0 433.0,440.0 C435.1,453.0 439.6,471.5 440.9,478.0 C442.3,484.5 439.4,472.8 441.2,479.0 C442.9,485.2 447.1,501.8 451.5,515.0 C455.8,528.2 462.3,546.4 467.2,558.0 C472.1,569.6 478.1,579.2 480.9,584.5 C483.6,589.8 480.5,584.4 483.6,590.0 C486.7,595.6 494.0,609.3 499.6,618.0 C505.1,626.7 514.1,638.0 517.0,642.0" fill="none" stroke="#a39382" stroke-width="1.3" opacity="1"/>
<path d="M448.5,341.0 C448.5,341.7 448.4,339.8 448.5,345.0 C448.6,350.2 448.9,363.3 449.0,372.5 C449.2,381.7 448.8,388.8 449.5,400.0 C450.2,411.2 451.8,427.0 453.5,440.0 C455.2,453.0 458.6,471.5 459.7,478.0 C460.8,484.5 458.4,472.8 459.9,479.0 C461.4,485.2 465.2,501.8 468.9,515.0 C472.5,528.2 478.0,546.4 481.9,558.0 C485.9,569.6 490.5,579.2 492.6,584.5 C494.8,589.8 492.4,584.4 494.7,590.0 C497.0,595.6 502.4,609.3 506.5,618.0 C510.6,626.7 517.1,638.0 519.2,642.0" fill="none" stroke="#cbbcab" stroke-width="5.5" opacity="1"/>
<path d="M444.5,341.0 C444.5,341.7 444.5,339.8 444.6,345.0 C444.7,350.2 444.9,363.3 445.1,372.5 C445.3,381.7 444.9,388.8 445.6,400.0 C446.4,411.2 447.9,427.0 449.7,440.0 C451.5,453.0 455.1,471.5 456.2,478.0 C457.4,484.5 454.9,472.8 456.4,479.0 C458.0,485.2 461.9,501.8 465.7,515.0 C469.5,528.2 475.1,546.4 479.2,558.0 C483.3,569.6 488.2,579.2 490.5,584.5 C492.7,589.8 490.2,584.4 492.6,590.0 C495.1,595.6 500.9,609.3 505.2,618.0 C509.6,626.7 516.5,638.0 518.8,642.0" fill="none" stroke="#b5a594" stroke-width="2.3" opacity="0.8"/>
<path d="M442.6,341.0 C442.6,341.7 442.6,339.8 442.7,345.0 C442.8,350.2 443.1,363.3 443.3,372.5 C443.4,381.7 443.0,388.8 443.8,400.0 C444.6,411.2 446.1,427.0 447.9,440.0 C449.7,453.0 453.5,471.5 454.6,478.0 C455.8,484.5 453.2,472.8 454.8,479.0 C456.4,485.2 460.3,501.8 464.1,515.0 C468.0,528.2 473.7,546.4 477.9,558.0 C482.1,569.6 487.1,579.2 489.4,584.5 C491.7,589.8 489.1,584.4 491.7,590.0 C494.2,595.6 500.1,609.3 504.6,618.0 C509.1,626.7 516.2,638.0 518.6,642.0" fill="none" stroke="#ab9b8a" stroke-width="1.9" opacity="1"/>
<path d="M459.3,341.0 C459.3,341.7 459.3,339.8 459.4,345.0 C459.4,350.2 459.6,363.3 459.7,372.5 C459.9,381.7 459.4,388.8 460.1,400.0 C460.8,411.2 462.3,427.0 463.8,440.0 C465.3,453.0 468.2,471.5 469.2,478.0 C470.1,484.5 467.9,472.8 469.3,479.0 C470.7,485.2 474.3,501.8 477.6,515.0 C481.0,528.2 485.9,546.4 489.3,558.0 C492.8,569.6 496.7,579.2 498.6,584.5 C500.4,589.8 498.4,584.4 500.3,590.0 C502.2,595.6 506.7,609.3 510.0,618.0 C513.4,626.7 518.6,638.0 520.3,642.0" fill="none" stroke="#d3c5b4" stroke-width="3.9" opacity="1"/>
<path d="M455.3,341.0 C455.4,341.7 455.3,339.8 455.4,345.0 C455.5,350.2 455.7,363.3 455.8,372.5 C456.0,381.7 455.5,388.8 456.2,400.0 C456.9,411.2 458.4,427.0 460.0,440.0 C461.6,453.0 464.7,471.5 465.7,478.0 C466.7,484.5 464.4,472.8 465.9,479.0 C467.3,485.2 471.0,501.8 474.4,515.0 C477.9,528.2 483.0,546.4 486.6,558.0 C490.3,569.6 494.5,579.2 496.4,584.5 C498.3,589.8 496.2,584.4 498.2,590.0 C500.3,595.6 505.1,609.3 508.7,618.0 C512.3,626.7 518.0,638.0 519.9,642.0" fill="none" stroke="#b9a998" stroke-width="2.3" opacity="0.8"/>
<path d="M453.5,341.0 C453.5,341.7 453.5,339.8 453.5,345.0 C453.6,350.2 453.8,363.3 454.0,372.5 C454.1,381.7 453.7,388.8 454.4,400.0 C455.1,411.2 456.6,427.0 458.2,440.0 C459.9,453.0 463.1,471.5 464.1,478.0 C465.1,484.5 462.8,472.8 464.2,479.0 C465.7,485.2 469.4,501.8 472.9,515.0 C476.4,528.2 481.6,546.4 485.4,558.0 C489.1,569.6 493.4,579.2 495.4,584.5 C497.4,589.8 495.1,584.4 497.3,590.0 C499.4,595.6 504.4,609.3 508.1,618.0 C511.9,626.7 517.7,638.0 519.7,642.0" fill="none" stroke="#9c8c7b" stroke-width="1.6" opacity="1"/>
<path d="M469.9,341.0 C469.9,341.7 469.8,339.8 469.9,345.0 C469.9,350.2 470.1,363.3 470.1,372.5 C470.2,381.7 469.8,388.8 470.4,400.0 C471.0,411.2 472.5,427.0 473.8,440.0 C475.1,453.0 477.6,471.5 478.3,478.0 C479.1,484.5 477.2,472.8 478.5,479.0 C479.8,485.2 483.1,501.8 486.2,515.0 C489.2,528.2 493.5,546.4 496.5,558.0 C499.6,569.6 502.8,579.2 504.3,584.5 C505.9,589.8 504.2,584.4 505.7,590.0 C507.2,595.6 510.8,609.3 513.4,618.0 C516.0,626.7 520.0,638.0 521.3,642.0" fill="none" stroke="#d0c2b1" stroke-width="3.7" opacity="1"/>
<path d="M465.9,341.0 C465.9,341.7 465.9,339.8 465.9,345.0 C466.0,350.2 466.1,363.3 466.2,372.5 C466.3,381.7 465.9,388.8 466.5,400.0 C467.2,411.2 468.7,427.0 470.0,440.0 C471.4,453.0 474.1,471.5 474.9,478.0 C475.7,484.5 473.7,472.8 475.0,479.0 C476.4,485.2 479.8,501.8 483.0,515.0 C486.1,528.2 490.6,546.4 493.8,558.0 C497.0,569.6 500.5,579.2 502.2,584.5 C503.8,589.8 502.0,584.4 503.7,590.0 C505.3,595.6 509.3,609.3 512.1,618.0 C515.0,626.7 519.5,638.0 520.9,642.0" fill="none" stroke="#b5a594" stroke-width="2.3" opacity="0.8"/>
<path d="M464.0,341.0 C464.0,341.7 464.0,339.8 464.1,345.0 C464.1,350.2 464.3,363.3 464.4,372.5 C464.5,381.7 464.1,388.8 464.7,400.0 C465.3,411.2 466.8,427.0 468.3,440.0 C469.7,453.0 472.4,471.5 473.3,478.0 C474.1,484.5 472.0,472.8 473.4,479.0 C474.8,485.2 478.3,501.8 481.4,515.0 C484.6,528.2 489.3,546.4 492.6,558.0 C495.8,569.6 499.5,579.2 501.1,584.5 C502.8,589.8 501.0,584.4 502.7,590.0 C504.4,595.6 508.5,609.3 511.5,618.0 C514.6,626.7 519.2,638.0 520.7,642.0" fill="none" stroke="#a39382" stroke-width="1.7" opacity="1"/>
<path d="M480.7,341.0 C480.7,341.7 480.7,339.8 480.8,345.0 C480.8,350.2 480.9,363.3 480.9,372.5 C480.9,381.7 480.5,388.8 481.0,400.0 C481.6,411.2 483.0,427.0 484.2,440.0 C485.3,453.0 487.2,471.5 487.8,478.0 C488.5,484.5 486.8,472.8 487.9,479.0 C489.1,485.2 492.3,501.8 495.0,515.0 C497.6,528.2 501.4,546.4 504.0,558.0 C506.6,569.6 509.1,579.2 510.3,584.5 C511.5,589.8 510.2,584.4 511.3,590.0 C512.4,595.6 515.1,609.3 516.9,618.0 C518.8,626.7 521.5,638.0 522.5,642.0" fill="none" stroke="#cbbcab" stroke-width="5.0" opacity="1"/>
<path d="M476.8,341.0 C476.8,341.7 476.8,339.8 476.8,345.0 C476.8,350.2 476.9,363.3 477.0,372.5 C477.0,381.7 476.6,388.8 477.2,400.0 C477.7,411.2 479.2,427.0 480.4,440.0 C481.6,453.0 483.7,471.5 484.4,478.0 C485.1,484.5 483.3,472.8 484.5,479.0 C485.7,485.2 489.0,501.8 491.8,515.0 C494.6,528.2 498.6,546.4 501.3,558.0 C504.0,569.6 506.8,579.2 508.1,584.5 C509.5,589.8 508.0,584.4 509.3,590.0 C510.5,595.6 513.5,609.3 515.7,618.0 C517.8,626.7 521.0,638.0 522.0,642.0" fill="none" stroke="#b9a998" stroke-width="2.3" opacity="0.8"/>
<path d="M474.9,341.0 C474.9,341.7 474.9,339.8 474.9,345.0 C475.0,350.2 475.1,363.3 475.1,372.5 C475.2,381.7 474.8,388.8 475.3,400.0 C475.9,411.2 477.4,427.0 478.6,440.0 C479.9,453.0 482.0,471.5 482.8,478.0 C483.5,484.5 481.6,472.8 482.9,479.0 C484.1,485.2 487.4,501.8 490.3,515.0 C493.1,528.2 497.2,546.4 500.0,558.0 C502.8,569.6 505.7,579.2 507.1,584.5 C508.5,589.8 507.0,584.4 508.3,590.0 C509.6,595.6 512.8,609.3 515.1,618.0 C517.3,626.7 520.7,638.0 521.9,642.0" fill="none" stroke="#ab9b8a" stroke-width="2.0" opacity="1"/>
<path d="M491.5,341.0 C491.5,341.7 491.5,339.8 491.5,345.0 C491.5,350.2 491.6,363.3 491.6,372.5 C491.6,381.7 491.1,388.8 491.6,400.0 C492.1,411.2 493.5,427.0 494.4,440.0 C495.4,453.0 496.8,471.5 497.3,478.0 C497.7,484.5 496.3,472.8 497.3,479.0 C498.4,485.2 501.4,501.8 503.7,515.0 C506.0,528.2 509.3,546.4 511.4,558.0 C513.5,569.6 515.3,579.2 516.2,584.5 C517.1,589.8 516.2,584.4 516.9,590.0 C517.6,595.6 519.3,609.3 520.4,618.0 C521.5,626.7 523.0,638.0 523.6,642.0" fill="none" stroke="#d3c5b4" stroke-width="4.1" opacity="1"/>
<path d="M487.6,341.0 C487.6,341.7 487.6,339.8 487.6,345.0 C487.6,350.2 487.6,363.3 487.6,372.5 C487.7,381.7 487.2,388.8 487.7,400.0 C488.2,411.2 489.7,427.0 490.7,440.0 C491.7,453.0 493.3,471.5 493.8,478.0 C494.3,484.5 492.8,472.8 493.9,479.0 C495.0,485.2 498.0,501.8 500.5,515.0 C503.0,528.2 506.4,546.4 508.7,558.0 C510.9,569.6 513.0,579.2 514.0,584.5 C515.1,589.8 514.0,584.4 514.8,590.0 C515.7,595.6 517.8,609.3 519.2,618.0 C520.5,626.7 522.5,638.0 523.1,642.0" fill="none" stroke="#b5a594" stroke-width="2.3" opacity="0.8"/>
<path d="M485.7,341.0 C485.7,341.7 485.7,339.8 485.7,345.0 C485.7,350.2 485.8,363.3 485.8,372.5 C485.8,381.7 485.4,388.8 485.9,400.0 C486.4,411.2 487.9,427.0 488.9,440.0 C490.0,453.0 491.6,471.5 492.2,478.0 C492.7,484.5 491.1,472.8 492.3,479.0 C493.4,485.2 496.5,501.8 499.0,515.0 C501.5,528.2 505.1,546.4 507.4,558.0 C509.7,569.6 511.9,579.2 513.0,584.5 C514.1,589.8 513.0,584.4 513.9,590.0 C514.8,595.6 517.0,609.3 518.5,618.0 C520.1,626.7 522.2,638.0 523.0,642.0" fill="none" stroke="#9c8c7b" stroke-width="1.8" opacity="1"/>
</g>
<path d="M388.0,341.0 C388.1,341.7 388.0,339.8 388.2,345.0 C388.4,350.2 389.0,363.3 389.4,372.5 C389.7,381.7 389.4,388.8 390.5,400.0 C391.6,411.2 393.2,427.0 396.0,440.0 C398.8,453.0 405.1,471.5 407.0,478.0 C408.9,484.5 405.2,472.8 407.4,479.0 C409.5,485.2 414.5,501.8 420.0,515.0 C425.5,528.2 434.0,546.4 440.6,558.0 C447.2,569.6 455.7,579.2 459.6,584.5 C463.4,589.8 458.9,584.4 463.5,590.0 C468.1,595.6 478.8,609.3 487.0,618.0 C495.2,626.7 508.7,638.0 513.0,642.0 L523.7,642.0 C523.2,638.0 521.9,626.7 520.9,618.0 C519.9,609.3 518.3,595.6 517.6,590.0 C517.0,584.4 517.9,589.8 517.0,584.5 C516.1,579.2 514.4,569.6 512.4,558.0 C510.4,546.4 507.2,528.2 504.9,515.0 C502.6,501.8 499.7,485.2 498.6,479.0 C497.5,472.8 499.0,484.5 498.5,478.0 C498.1,471.5 496.8,453.0 495.8,440.0 C494.9,427.0 493.5,411.2 493.0,400.0 C492.5,388.8 493.0,381.7 493.0,372.5 C493.0,363.3 493.0,350.2 493.0,345.0 C493.0,339.8 493.0,341.7 493.0,341.0 Z" fill="url(#shbk1)"/>
</g>
<path d="M493.0,350.0 C493.0,354.2 493.0,366.7 493.0,375.0 C493.0,383.3 492.7,391.4 493.0,400.0 C493.3,408.6 494.2,417.6 494.9,426.3 C495.5,435.1 496.1,443.9 496.7,452.7 C497.4,461.4 497.5,470.2 498.6,479.0 C499.7,487.8 501.7,496.6 503.2,505.4 C504.7,514.2 506.3,523.0 507.8,531.8 C509.3,540.5 510.9,549.3 512.4,558.1 C513.9,566.9 515.7,575.3 517.0,584.5 C518.3,593.7 519.2,603.7 520.4,613.2 C521.5,622.8 523.1,637.2 523.7,642.0 L536.0,642.0 C536.0,637.2 536.0,622.8 536.0,613.2 C536.0,603.7 536.0,593.7 536.0,584.5 C536.0,575.3 536.0,566.9 536.0,558.1 C536.0,549.3 536.0,540.5 536.0,531.8 C536.0,523.0 536.0,514.2 536.0,505.4 C536.0,496.6 536.0,487.8 536.0,479.0 C536.0,470.2 536.0,461.4 536.0,452.7 C536.0,443.9 536.0,435.1 536.0,426.3 C536.0,417.6 536.0,408.6 536.0,400.0 C536.0,391.4 536.0,383.3 536.0,375.0 C536.0,366.7 536.0,354.2 536.0,350.0 Z" fill="#e2d4c2"/>
<g clip-path="url(#cbk2)"><g filter="url(#b1)">
<path d="M504.1,350.0 C504.1,354.2 504.1,366.7 504.1,375.0 C504.1,383.3 503.9,391.4 504.1,400.0 C504.4,408.6 505.1,417.6 505.5,426.3 C506.0,435.1 506.5,443.9 506.9,452.7 C507.4,461.4 507.5,470.2 508.3,479.0 C509.1,487.8 510.6,496.6 511.7,505.4 C512.8,514.2 514.0,523.0 515.1,531.8 C516.2,540.5 517.4,549.3 518.5,558.1 C519.7,566.9 520.9,575.3 521.9,584.5 C522.9,593.7 523.6,603.7 524.4,613.2 C525.2,622.8 526.5,637.2 526.9,642.0" fill="none" stroke="#ece0d0" stroke-width="3.6" opacity="1"/>
<path d="M497.0,350.0 C497.0,354.2 497.0,366.7 497.0,375.0 C497.0,383.3 496.7,391.4 497.0,400.0 C497.3,408.6 498.1,417.6 498.7,426.3 C499.2,435.1 499.8,443.9 500.4,452.7 C500.9,461.4 501.1,470.2 502.1,479.0 C503.0,487.8 504.8,496.6 506.2,505.4 C507.6,514.2 509.0,523.0 510.4,531.8 C511.8,540.5 513.2,549.3 514.6,558.1 C516.0,566.9 517.6,575.3 518.8,584.5 C520.0,593.7 520.8,603.7 521.8,613.2 C522.8,622.8 524.3,637.2 524.8,642.0" fill="none" stroke="#cdbca8" stroke-width="2.6" opacity="1"/>
<path d="M518.4,350.0 C518.4,354.2 518.4,366.7 518.4,375.0 C518.4,383.3 518.3,391.4 518.4,400.0 C518.5,408.6 518.9,417.6 519.2,426.3 C519.4,435.1 519.7,443.9 519.9,452.7 C520.2,461.4 520.3,470.2 520.7,479.0 C521.1,487.8 522.0,496.6 522.6,505.4 C523.2,514.2 523.8,523.0 524.5,531.8 C525.1,540.5 525.7,549.3 526.3,558.1 C527.0,566.9 527.7,575.3 528.2,584.5 C528.8,593.7 529.1,603.7 529.6,613.2 C530.1,622.8 530.7,637.2 531.0,642.0" fill="none" stroke="#e8dccb" stroke-width="4.1" opacity="1"/>
<path d="M511.2,350.0 C511.2,354.2 511.2,366.7 511.2,375.0 C511.2,383.3 511.1,391.4 511.2,400.0 C511.4,408.6 512.0,417.6 512.3,426.3 C512.7,435.1 513.0,443.9 513.4,452.7 C513.8,461.4 513.9,470.2 514.5,479.0 C515.1,487.8 516.2,496.6 517.1,505.4 C518.0,514.2 518.9,523.0 519.8,531.8 C520.6,540.5 521.5,549.3 522.4,558.1 C523.3,566.9 524.3,575.3 525.1,584.5 C525.8,593.7 526.3,603.7 527.0,613.2 C527.6,622.8 528.6,637.2 528.9,642.0" fill="none" stroke="#d6c6b3" stroke-width="2.3" opacity="1"/>
<path d="M533.3,350.0 C533.3,354.2 533.3,366.7 533.3,375.0 C533.3,383.3 533.3,391.4 533.3,400.0 C533.3,408.6 533.4,417.6 533.4,426.3 C533.5,435.1 533.5,443.9 533.6,452.7 C533.6,461.4 533.6,470.2 533.7,479.0 C533.7,487.8 533.9,496.6 534.0,505.4 C534.1,514.2 534.1,523.0 534.2,531.8 C534.3,540.5 534.4,549.3 534.5,558.1 C534.6,566.9 534.7,575.3 534.8,584.5 C534.9,593.7 535.0,603.7 535.0,613.2 C535.1,622.8 535.2,637.2 535.2,642.0" fill="none" stroke="#ece0d0" stroke-width="3.7" opacity="1"/>
<path d="M526.2,350.0 C526.2,354.2 526.2,366.7 526.2,375.0 C526.2,383.3 526.1,391.4 526.2,400.0 C526.2,408.6 526.4,417.6 526.6,426.3 C526.7,435.1 526.9,443.9 527.0,452.7 C527.2,461.4 527.2,470.2 527.4,479.0 C527.7,487.8 528.1,496.6 528.5,505.4 C528.8,514.2 529.2,523.0 529.5,531.8 C529.9,540.5 530.2,549.3 530.6,558.1 C530.9,566.9 531.3,575.3 531.7,584.5 C532.0,593.7 532.2,603.7 532.4,613.2 C532.7,622.8 533.1,637.2 533.2,642.0" fill="none" stroke="#cdbca8" stroke-width="2.3" opacity="1"/>
</g>
</g>
<polygon points="356.0,322.0 480.0,350.0 468.0,361.5 356.0,361.5" fill="url(#wd2)" />
<polygon points="356.0,360.0 392.0,362.0 392.0,376.0 356.0,376.0" fill="#37322e" />
<path d="M513.5,662.0 C511.1,666.0 504.8,677.2 499.0,686.0 C493.2,694.8 483.3,707.3 479.0,715.0 C474.7,722.7 476.1,723.7 473.4,732.0 C470.6,740.3 465.3,754.1 462.5,765.0 C459.7,775.9 458.6,786.7 456.6,797.5 C454.6,808.3 452.2,821.8 450.7,830.0 C449.2,838.2 449.2,838.7 447.6,847.0 C446.0,855.3 443.2,869.0 441.1,880.0 C438.9,891.0 436.0,904.8 434.5,913.0 C433.0,921.2 433.2,921.7 432.1,929.0 C431.1,936.3 428.7,952.3 428.0,957.0 L498.0,957.0 C498.2,952.3 498.7,936.3 499.0,929.0 C499.3,921.7 499.5,921.2 500.0,913.0 C500.5,904.8 501.3,891.0 502.0,880.0 C502.6,869.0 503.5,855.3 504.0,847.0 C504.5,838.7 504.4,838.2 505.0,830.0 C505.6,821.8 506.9,808.3 507.8,797.5 C508.8,786.7 509.7,775.9 510.6,765.0 C511.6,754.1 512.7,740.3 513.5,732.0 C514.3,723.7 514.6,722.7 515.6,715.0 C516.5,707.3 518.0,694.8 519.1,686.0 C520.2,677.2 521.5,666.0 522.0,662.0 Z" fill="#c0b09f"/>
<g clip-path="url(#cbk3)"><g filter="url(#b1)">
<path d="M514.4,662.0 C512.2,666.0 506.5,677.2 501.2,686.0 C496.0,694.8 486.9,707.3 483.0,715.0 C479.1,722.7 480.4,723.7 477.8,732.0 C475.3,740.3 470.4,754.1 467.8,765.0 C465.2,775.9 464.1,786.7 462.3,797.5 C460.4,808.3 458.1,821.8 456.7,830.0 C455.3,838.2 455.3,838.7 453.8,847.0 C452.3,855.3 449.8,869.0 447.8,880.0 C445.8,891.0 443.1,904.8 441.7,913.0 C440.4,921.2 440.5,921.7 439.5,929.0 C438.5,936.3 436.4,952.3 435.7,957.0" fill="none" stroke="#cfc0af" stroke-width="3.3" opacity="1"/>
<path d="M514.1,662.0 C511.8,666.0 505.9,677.2 500.5,686.0 C495.1,694.8 485.7,707.3 481.7,715.0 C477.6,722.7 478.9,723.7 476.3,732.0 C473.7,740.3 468.7,754.1 466.0,765.0 C463.3,775.9 462.2,786.7 460.3,797.5 C458.4,808.3 456.1,821.8 454.6,830.0 C453.2,838.2 453.2,838.7 451.7,847.0 C450.2,855.3 447.6,869.0 445.5,880.0 C443.4,891.0 440.7,904.8 439.3,913.0 C437.8,921.2 438.0,921.7 437.0,929.0 C436.0,936.3 433.7,952.3 433.1,957.0" fill="none" stroke="#b0a08f" stroke-width="2.2" opacity="0.8"/>
<path d="M514.0,662.0 C511.7,666.0 505.6,677.2 500.1,686.0 C494.6,694.8 485.1,707.3 481.0,715.0 C476.9,722.7 478.2,723.7 475.6,732.0 C472.9,740.3 467.8,754.1 465.1,765.0 C462.4,775.9 461.3,786.7 459.4,797.5 C457.5,808.3 455.1,821.8 453.7,830.0 C452.2,838.2 452.2,838.7 450.7,847.0 C449.2,855.3 446.5,869.0 444.4,880.0 C442.3,891.0 439.5,904.8 438.1,913.0 C436.7,921.2 436.9,921.7 435.8,929.0 C434.8,936.3 432.5,952.3 431.8,957.0" fill="none" stroke="#998978" stroke-width="1.6" opacity="1"/>
<path d="M515.2,662.0 C513.1,666.0 507.8,677.2 503.0,686.0 C498.1,694.8 489.8,707.3 486.2,715.0 C482.6,722.7 483.6,723.7 481.3,732.0 C478.9,740.3 474.4,754.1 472.0,765.0 C469.5,775.9 468.4,786.7 466.7,797.5 C464.9,808.3 462.7,821.8 461.4,830.0 C460.0,838.2 460.1,838.7 458.7,847.0 C457.3,855.3 454.9,869.0 453.0,880.0 C451.1,891.0 448.7,904.8 447.4,913.0 C446.1,921.2 446.2,921.7 445.3,929.0 C444.4,936.3 442.4,952.3 441.8,957.0" fill="none" stroke="#c8b9a8" stroke-width="3.8" opacity="1"/>
<path d="M514.9,662.0 C512.7,666.0 507.2,677.2 502.2,686.0 C497.2,694.8 488.5,707.3 484.8,715.0 C481.1,722.7 482.2,723.7 479.8,732.0 C477.3,740.3 472.7,754.1 470.1,765.0 C467.6,775.9 466.5,786.7 464.7,797.5 C462.9,808.3 460.7,821.8 459.3,830.0 C458.0,838.2 458.0,838.7 456.6,847.0 C455.1,855.3 452.7,869.0 450.7,880.0 C448.8,891.0 446.2,904.8 444.9,913.0 C443.6,921.2 443.7,921.7 442.8,929.0 C441.8,936.3 439.7,952.3 439.1,957.0" fill="none" stroke="#b5a594" stroke-width="2.2" opacity="0.8"/>
<path d="M514.7,662.0 C512.6,666.0 506.9,677.2 501.8,686.0 C496.7,694.8 488.0,707.3 484.2,715.0 C480.4,722.7 481.5,723.7 479.0,732.0 C476.6,740.3 471.8,754.1 469.3,765.0 C466.8,775.9 465.6,786.7 463.8,797.5 C462.0,808.3 459.7,821.8 458.4,830.0 C457.0,838.2 457.0,838.7 455.6,847.0 C454.1,855.3 451.6,869.0 449.6,880.0 C447.7,891.0 445.1,904.8 443.7,913.0 C442.4,921.2 442.5,921.7 441.6,929.0 C440.6,936.3 438.5,952.3 437.9,957.0" fill="none" stroke="#a39382" stroke-width="1.4" opacity="1"/>
<path d="M516.3,662.0 C514.6,666.0 509.9,677.2 505.7,686.0 C501.5,694.8 494.4,707.3 491.2,715.0 C488.1,722.7 488.9,723.7 486.8,732.0 C484.7,740.3 480.8,754.1 478.6,765.0 C476.4,775.9 475.3,786.7 473.7,797.5 C472.1,808.3 470.0,821.8 468.8,830.0 C467.6,838.2 467.7,838.7 466.4,847.0 C465.2,855.3 463.1,869.0 461.4,880.0 C459.7,891.0 457.5,904.8 456.4,913.0 C455.2,921.2 455.3,921.7 454.5,929.0 C453.6,936.3 451.9,952.3 451.4,957.0" fill="none" stroke="#d4c6b5" stroke-width="3.0" opacity="1"/>
<path d="M516.0,662.0 C514.2,666.0 509.3,677.2 504.9,686.0 C500.6,694.8 493.1,707.3 489.8,715.0 C486.6,722.7 487.4,723.7 485.3,732.0 C483.1,740.3 479.0,754.1 476.8,765.0 C474.5,775.9 473.4,786.7 471.8,797.5 C470.1,808.3 468.0,821.8 466.8,830.0 C465.5,838.2 465.6,838.7 464.3,847.0 C463.0,855.3 460.8,869.0 459.1,880.0 C457.4,891.0 455.1,904.8 453.9,913.0 C452.7,921.2 452.8,921.7 451.9,929.0 C451.1,936.3 449.3,952.3 448.7,957.0" fill="none" stroke="#b0a08f" stroke-width="2.2" opacity="0.8"/>
<path d="M515.9,662.0 C514.0,666.0 509.0,677.2 504.6,686.0 C500.1,694.8 492.5,707.3 489.2,715.0 C485.8,722.7 486.8,723.7 484.6,732.0 C482.3,740.3 478.2,754.1 475.9,765.0 C473.6,775.9 472.5,786.7 470.9,797.5 C469.2,808.3 467.1,821.8 465.8,830.0 C464.6,838.2 464.6,838.7 463.3,847.0 C462.0,855.3 459.8,869.0 458.0,880.0 C456.3,891.0 453.9,904.8 452.7,913.0 C451.5,921.2 451.6,921.7 450.8,929.0 C449.9,936.3 448.0,952.3 447.5,957.0" fill="none" stroke="#928271" stroke-width="1.5" opacity="1"/>
<path d="M517.2,662.0 C515.6,666.0 511.4,677.2 507.7,686.0 C504.0,694.8 497.7,707.3 494.9,715.0 C492.1,722.7 492.7,723.7 490.8,732.0 C488.9,740.3 485.4,754.1 483.4,765.0 C481.4,775.9 480.4,786.7 478.9,797.5 C477.3,808.3 475.4,821.8 474.3,830.0 C473.2,838.2 473.2,838.7 472.1,847.0 C471.0,855.3 469.0,869.0 467.5,880.0 C466.0,891.0 464.0,904.8 463.0,913.0 C461.9,921.2 461.9,921.7 461.2,929.0 C460.4,936.3 458.9,952.3 458.4,957.0" fill="none" stroke="#cfc0af" stroke-width="3.1" opacity="1"/>
<path d="M516.9,662.0 C515.2,666.0 510.9,677.2 507.0,686.0 C503.1,694.8 496.5,707.3 493.5,715.0 C490.6,722.7 491.3,723.7 489.3,732.0 C487.3,740.3 483.7,754.1 481.6,765.0 C479.5,775.9 478.5,786.7 476.9,797.5 C475.4,808.3 473.4,821.8 472.2,830.0 C471.1,838.2 471.1,838.7 470.0,847.0 C468.8,855.3 466.8,869.0 465.2,880.0 C463.6,891.0 461.6,904.8 460.5,913.0 C459.4,921.2 459.5,921.7 458.7,929.0 C457.9,936.3 456.3,952.3 455.8,957.0" fill="none" stroke="#b5a594" stroke-width="2.2" opacity="0.8"/>
<path d="M516.7,662.0 C515.0,666.0 510.6,677.2 506.6,686.0 C502.6,694.8 495.9,707.3 492.9,715.0 C489.9,722.7 490.6,723.7 488.6,732.0 C486.6,740.3 482.8,754.1 480.7,765.0 C478.6,775.9 477.6,786.7 476.0,797.5 C474.4,808.3 472.4,821.8 471.3,830.0 C470.1,838.2 470.2,838.7 469.0,847.0 C467.8,855.3 465.7,869.0 464.1,880.0 C462.5,891.0 460.4,904.8 459.3,913.0 C458.2,921.2 458.3,921.7 457.5,929.0 C456.7,936.3 455.0,952.3 454.5,957.0" fill="none" stroke="#998978" stroke-width="1.3" opacity="1"/>
<path d="M518.2,662.0 C516.9,666.0 513.3,677.2 510.2,686.0 C507.1,694.8 501.8,707.3 499.4,715.0 C497.0,722.7 497.4,723.7 495.8,732.0 C494.1,740.3 491.1,754.1 489.4,765.0 C487.6,775.9 486.6,786.7 485.2,797.5 C483.8,808.3 482.0,821.8 481.0,830.0 C480.0,838.2 480.0,838.7 479.1,847.0 C478.1,855.3 476.4,869.0 475.0,880.0 C473.7,891.0 472.0,904.8 471.0,913.0 C470.1,921.2 470.1,921.7 469.4,929.0 C468.8,936.3 467.5,952.3 467.1,957.0" fill="none" stroke="#c8b9a8" stroke-width="3.5" opacity="1"/>
<path d="M517.9,662.0 C516.5,666.0 512.8,677.2 509.5,686.0 C506.1,694.8 500.6,707.3 498.0,715.0 C495.5,722.7 496.0,723.7 494.3,732.0 C492.5,740.3 489.4,754.1 487.5,765.0 C485.7,775.9 484.7,786.7 483.2,797.5 C481.8,808.3 480.0,821.8 478.9,830.0 C477.9,838.2 478.0,838.7 476.9,847.0 C475.9,855.3 474.1,869.0 472.7,880.0 C471.4,891.0 469.5,904.8 468.6,913.0 C467.6,921.2 467.6,921.7 466.9,929.0 C466.2,936.3 464.8,952.3 464.4,957.0" fill="none" stroke="#b0a08f" stroke-width="2.2" opacity="0.8"/>
<path d="M517.8,662.0 C516.3,666.0 512.5,677.2 509.1,686.0 C505.7,694.8 500.0,707.3 497.4,715.0 C494.8,722.7 495.3,723.7 493.5,732.0 C491.8,740.3 488.6,754.1 486.7,765.0 C484.8,775.9 483.8,786.7 482.3,797.5 C480.9,808.3 479.0,821.8 478.0,830.0 C476.9,838.2 477.0,838.7 475.9,847.0 C474.9,855.3 473.1,869.0 471.7,880.0 C470.2,891.0 468.4,904.8 467.4,913.0 C466.4,921.2 466.4,921.7 465.7,929.0 C465.0,936.3 463.6,952.3 463.2,957.0" fill="none" stroke="#a39382" stroke-width="1.9" opacity="1"/>
<path d="M519.0,662.0 C517.8,666.0 514.6,677.2 511.9,686.0 C509.1,694.8 504.6,707.3 502.5,715.0 C500.3,722.7 500.6,723.7 499.1,732.0 C497.6,740.3 495.0,754.1 493.4,765.0 C491.8,775.9 490.8,786.7 489.5,797.5 C488.2,808.3 486.5,821.8 485.5,830.0 C484.6,838.2 484.7,838.7 483.8,847.0 C482.9,855.3 481.4,869.0 480.1,880.0 C478.9,891.0 477.4,904.8 476.5,913.0 C475.7,921.2 475.6,921.7 475.0,929.0 C474.4,936.3 473.3,952.3 472.9,957.0" fill="none" stroke="#d4c6b5" stroke-width="3.4" opacity="1"/>
<path d="M518.6,662.0 C517.4,666.0 514.1,677.2 511.1,686.0 C508.2,694.8 503.3,707.3 501.1,715.0 C498.8,722.7 499.2,723.7 497.6,732.0 C496.0,740.3 493.3,754.1 491.6,765.0 C489.9,775.9 488.9,786.7 487.5,797.5 C486.2,808.3 484.5,821.8 483.5,830.0 C482.5,838.2 482.6,838.7 481.6,847.0 C480.7,855.3 479.1,869.0 477.8,880.0 C476.6,891.0 474.9,904.8 474.0,913.0 C473.1,921.2 473.1,921.7 472.5,929.0 C471.9,936.3 470.6,952.3 470.3,957.0" fill="none" stroke="#b5a594" stroke-width="2.2" opacity="0.8"/>
<path d="M518.5,662.0 C517.2,666.0 513.8,677.2 510.8,686.0 C507.8,694.8 502.7,707.3 500.4,715.0 C498.1,722.7 498.5,723.7 496.9,732.0 C495.3,740.3 492.4,754.1 490.7,765.0 C489.0,775.9 488.0,786.7 486.6,797.5 C485.3,808.3 483.5,821.8 482.5,830.0 C481.5,838.2 481.6,838.7 480.6,847.0 C479.7,855.3 478.1,869.0 476.8,880.0 C475.5,891.0 473.8,904.8 472.9,913.0 C472.0,921.2 472.0,921.7 471.3,929.0 C470.7,936.3 469.4,952.3 469.0,957.0" fill="none" stroke="#928271" stroke-width="2.2" opacity="1"/>
<path d="M520.2,662.0 C519.3,666.0 516.9,677.2 514.9,686.0 C512.8,694.8 509.6,707.3 507.9,715.0 C506.3,722.7 506.4,723.7 505.1,732.0 C503.9,740.3 501.9,754.1 500.6,765.0 C499.3,775.9 498.3,786.7 497.1,797.5 C496.0,808.3 494.5,821.8 493.7,830.0 C492.9,838.2 492.9,838.7 492.2,847.0 C491.5,855.3 490.2,869.0 489.3,880.0 C488.3,891.0 487.0,904.8 486.3,913.0 C485.6,921.2 485.5,921.7 485.1,929.0 C484.6,936.3 483.7,952.3 483.4,957.0" fill="none" stroke="#cfc0af" stroke-width="3.2" opacity="1"/>
<path d="M519.9,662.0 C518.9,666.0 516.4,677.2 514.1,686.0 C511.9,694.8 508.3,707.3 506.6,715.0 C504.8,722.7 504.9,723.7 503.6,732.0 C502.3,740.3 500.2,754.1 498.8,765.0 C497.4,775.9 496.4,786.7 495.2,797.5 C494.0,808.3 492.5,821.8 491.6,830.0 C490.8,838.2 490.9,838.7 490.1,847.0 C489.3,855.3 488.0,869.0 487.0,880.0 C485.9,891.0 484.6,904.8 483.8,913.0 C483.1,921.2 483.0,921.7 482.5,929.0 C482.0,936.3 481.1,952.3 480.8,957.0" fill="none" stroke="#b0a08f" stroke-width="2.2" opacity="0.8"/>
<path d="M519.8,662.0 C518.8,666.0 516.1,677.2 513.8,686.0 C511.5,694.8 507.7,707.3 505.9,715.0 C504.1,722.7 504.2,723.7 502.9,732.0 C501.6,740.3 499.4,754.1 497.9,765.0 C496.5,775.9 495.5,786.7 494.3,797.5 C493.1,808.3 491.5,821.8 490.7,830.0 C489.8,838.2 489.9,838.7 489.1,847.0 C488.3,855.3 486.9,869.0 485.9,880.0 C484.8,891.0 483.4,904.8 482.7,913.0 C481.9,921.2 481.9,921.7 481.3,929.0 C480.8,936.3 479.8,952.3 479.5,957.0" fill="none" stroke="#998978" stroke-width="2.0" opacity="1"/>
<path d="M521.2,662.0 C520.5,666.0 518.6,677.2 517.1,686.0 C515.5,694.8 513.2,707.3 511.9,715.0 C510.7,722.7 510.5,723.7 509.5,732.0 C508.5,740.3 507.0,754.1 505.8,765.0 C504.7,775.9 503.8,786.7 502.7,797.5 C501.7,808.3 500.3,821.8 499.6,830.0 C498.9,838.2 499.0,838.7 498.4,847.0 C497.7,855.3 496.7,869.0 495.9,880.0 C495.1,891.0 494.0,904.8 493.4,913.0 C492.9,921.2 492.7,921.7 492.3,929.0 C491.9,936.3 491.2,952.3 491.0,957.0" fill="none" stroke="#c8b9a8" stroke-width="2.8" opacity="1"/>
<path d="M520.8,662.0 C520.1,666.0 518.0,677.2 516.3,686.0 C514.6,694.8 511.9,707.3 510.5,715.0 C509.2,722.7 509.1,723.7 508.0,732.0 C506.9,740.3 505.2,754.1 504.0,765.0 C502.8,775.9 501.9,786.7 500.8,797.5 C499.7,808.3 498.3,821.8 497.5,830.0 C496.8,838.2 496.9,838.7 496.2,847.0 C495.6,855.3 494.5,869.0 493.6,880.0 C492.7,891.0 491.6,904.8 491.0,913.0 C490.3,921.2 490.2,921.7 489.8,929.0 C489.4,936.3 488.6,952.3 488.4,957.0" fill="none" stroke="#b5a594" stroke-width="2.2" opacity="0.8"/>
<path d="M520.7,662.0 C519.9,666.0 517.8,677.2 516.0,686.0 C514.2,694.8 511.3,707.3 509.9,715.0 C508.4,722.7 508.4,723.7 507.3,732.0 C506.2,740.3 504.4,754.1 503.2,765.0 C501.9,775.9 501.0,786.7 499.9,797.5 C498.8,808.3 497.3,821.8 496.6,830.0 C495.8,838.2 495.9,838.7 495.2,847.0 C494.5,855.3 493.4,869.0 492.5,880.0 C491.6,891.0 490.5,904.8 489.8,913.0 C489.2,921.2 489.1,921.7 488.6,929.0 C488.2,936.3 487.4,952.3 487.1,957.0" fill="none" stroke="#a39382" stroke-width="2.0" opacity="1"/>
<path d="M521.8,662.0 C521.2,666.0 519.8,677.2 518.6,686.0 C517.4,694.8 515.6,707.3 514.6,715.0 C513.6,722.7 513.3,723.7 512.4,732.0 C511.6,740.3 510.4,754.1 509.4,765.0 C508.4,775.9 507.4,786.7 506.5,797.5 C505.5,808.3 504.2,821.8 503.6,830.0 C502.9,838.2 503.0,838.7 502.5,847.0 C501.9,855.3 501.1,869.0 500.4,880.0 C499.7,891.0 498.8,904.8 498.2,913.0 C497.7,921.2 497.6,921.7 497.2,929.0 C496.9,936.3 496.3,952.3 496.1,957.0" fill="none" stroke="#d4c6b5" stroke-width="3.0" opacity="1"/>
<path d="M521.5,662.0 C520.8,666.0 519.2,677.2 517.8,686.0 C516.4,694.8 514.4,707.3 513.2,715.0 C512.1,722.7 511.9,723.7 510.9,732.0 C510.0,740.3 508.6,754.1 507.5,765.0 C506.5,775.9 505.5,786.7 504.5,797.5 C503.5,808.3 502.2,821.8 501.5,830.0 C500.8,838.2 500.9,838.7 500.3,847.0 C499.8,855.3 498.8,869.0 498.1,880.0 C497.3,891.0 496.3,904.8 495.8,913.0 C495.2,921.2 495.1,921.7 494.7,929.0 C494.3,936.3 493.7,952.3 493.5,957.0" fill="none" stroke="#b0a08f" stroke-width="2.2" opacity="0.8"/>
<path d="M521.3,662.0 C520.7,666.0 518.9,677.2 517.4,686.0 C516.0,694.8 513.8,707.3 512.6,715.0 C511.4,722.7 511.2,723.7 510.2,732.0 C509.2,740.3 507.8,754.1 506.7,765.0 C505.6,775.9 504.6,786.7 503.6,797.5 C502.6,808.3 501.3,821.8 500.5,830.0 C499.8,838.2 499.9,838.7 499.3,847.0 C498.8,855.3 497.8,869.0 497.0,880.0 C496.2,891.0 495.2,904.8 494.6,913.0 C494.0,921.2 493.9,921.7 493.5,929.0 C493.1,936.3 492.5,952.3 492.3,957.0" fill="none" stroke="#928271" stroke-width="1.4" opacity="1"/>
</g>
<path d="M513.5,662.0 C511.1,666.0 504.8,677.2 499.0,686.0 C493.2,694.8 483.3,707.3 479.0,715.0 C474.7,722.7 476.1,723.7 473.4,732.0 C470.6,740.3 465.3,754.1 462.5,765.0 C459.7,775.9 458.6,786.7 456.6,797.5 C454.6,808.3 452.2,821.8 450.7,830.0 C449.2,838.2 449.2,838.7 447.6,847.0 C446.0,855.3 443.2,869.0 441.1,880.0 C438.9,891.0 436.0,904.8 434.5,913.0 C433.0,921.2 433.2,921.7 432.1,929.0 C431.1,936.3 428.7,952.3 428.0,957.0 L498.0,957.0 C498.2,952.3 498.7,936.3 499.0,929.0 C499.3,921.7 499.5,921.2 500.0,913.0 C500.5,904.8 501.3,891.0 502.0,880.0 C502.6,869.0 503.5,855.3 504.0,847.0 C504.5,838.7 504.4,838.2 505.0,830.0 C505.6,821.8 506.9,808.3 507.8,797.5 C508.8,786.7 509.7,775.9 510.6,765.0 C511.6,754.1 512.7,740.3 513.5,732.0 C514.3,723.7 514.6,722.7 515.6,715.0 C516.5,707.3 518.0,694.8 519.1,686.0 C520.2,677.2 521.5,666.0 522.0,662.0 Z" fill="url(#shbk3)"/>
</g>
<path d="M522.0,662.0 C521.3,667.8 519.2,685.3 517.8,697.0 C516.3,708.7 514.7,720.7 513.5,732.0 C512.3,743.3 511.6,753.8 510.7,764.7 C509.7,775.6 508.8,786.4 507.8,797.3 C506.9,808.2 505.8,819.1 505.0,830.0 C504.2,840.9 503.7,852.0 503.0,863.0 C502.3,874.0 501.7,885.0 501.0,896.0 C500.3,907.0 499.7,916.7 499.0,929.0 C498.3,941.3 497.3,963.2 497.0,970.0 L537.0,970.0 C537.0,963.2 537.0,941.3 537.0,929.0 C537.0,916.7 537.0,907.0 537.0,896.0 C537.0,885.0 537.0,874.0 537.0,863.0 C537.0,852.0 537.0,840.9 537.0,830.0 C537.0,819.1 537.0,808.2 537.0,797.3 C537.0,786.4 537.0,775.6 537.0,764.7 C537.0,753.8 537.0,743.3 537.0,732.0 C537.0,720.7 537.0,708.7 537.0,697.0 C537.0,685.3 537.0,667.8 537.0,662.0 Z" fill="#e6d9c7"/>
<g clip-path="url(#cbk4)"><g filter="url(#b1)">
<path d="M526.5,662.0 C526.0,667.8 524.6,685.3 523.6,697.0 C522.6,708.7 521.4,720.7 520.6,732.0 C519.8,743.3 519.3,753.8 518.6,764.7 C518.0,775.6 517.3,786.4 516.7,797.3 C516.0,808.2 515.3,819.1 514.7,830.0 C514.1,840.9 513.8,852.0 513.3,863.0 C512.8,874.0 512.4,885.0 511.9,896.0 C511.4,907.0 511.0,916.7 510.5,929.0 C510.0,941.3 509.3,963.2 509.1,970.0" fill="none" stroke="#efe4d4" stroke-width="2.7" opacity="1"/>
<path d="M524.0,662.0 C523.4,667.8 521.6,685.3 520.4,697.0 C519.1,708.7 517.7,720.7 516.7,732.0 C515.7,743.3 515.1,753.8 514.3,764.7 C513.4,775.6 512.6,786.4 511.8,797.3 C511.0,808.2 510.1,819.1 509.4,830.0 C508.7,840.9 508.2,852.0 507.6,863.0 C507.1,874.0 506.5,885.0 505.9,896.0 C505.3,907.0 504.8,916.7 504.2,929.0 C503.6,941.3 502.7,963.2 502.4,970.0" fill="none" stroke="#cfbfab" stroke-width="2.2" opacity="1"/>
<path d="M532.1,662.0 C531.8,667.8 531.1,685.3 530.7,697.0 C530.2,708.7 529.6,720.7 529.3,732.0 C528.9,743.3 528.6,753.8 528.3,764.7 C528.0,775.6 527.7,786.4 527.4,797.3 C527.1,808.2 526.7,819.1 526.5,830.0 C526.2,840.9 526.0,852.0 525.8,863.0 C525.6,874.0 525.4,885.0 525.1,896.0 C524.9,907.0 524.7,916.7 524.5,929.0 C524.3,941.3 523.9,963.2 523.8,970.0" fill="none" stroke="#eadecd" stroke-width="2.6" opacity="1"/>
<path d="M529.6,662.0 C529.2,667.8 528.2,685.3 527.5,697.0 C526.7,708.7 525.9,720.7 525.3,732.0 C524.8,743.3 524.4,753.8 523.9,764.7 C523.5,775.6 523.0,786.4 522.5,797.3 C522.1,808.2 521.5,819.1 521.1,830.0 C520.7,840.9 520.5,852.0 520.1,863.0 C519.8,874.0 519.5,885.0 519.1,896.0 C518.8,907.0 518.5,916.7 518.1,929.0 C517.8,941.3 517.3,963.2 517.2,970.0" fill="none" stroke="#d9cab7" stroke-width="2.6" opacity="1"/>
<path d="M537.8,662.0 C537.9,667.8 538.0,685.3 538.1,697.0 C538.1,708.7 538.2,720.7 538.3,732.0 C538.4,743.3 538.4,753.8 538.4,764.7 C538.5,775.6 538.5,786.4 538.6,797.3 C538.6,808.2 538.7,819.1 538.8,830.0 C538.8,840.9 538.8,852.0 538.9,863.0 C538.9,874.0 538.9,885.0 539.0,896.0 C539.0,907.0 539.0,916.7 539.1,929.0 C539.1,941.3 539.2,963.2 539.2,970.0" fill="none" stroke="#efe4d4" stroke-width="3.3" opacity="1"/>
<path d="M535.3,662.0 C535.2,667.8 535.0,685.3 534.8,697.0 C534.7,708.7 534.5,720.7 534.4,732.0 C534.2,743.3 534.2,753.8 534.1,764.7 C533.9,775.6 533.8,786.4 533.7,797.3 C533.6,808.2 533.5,819.1 533.4,830.0 C533.3,840.9 533.3,852.0 533.2,863.0 C533.1,874.0 533.0,885.0 533.0,896.0 C532.9,907.0 532.8,916.7 532.7,929.0 C532.7,941.3 532.6,963.2 532.5,970.0" fill="none" stroke="#cfbfab" stroke-width="2.4" opacity="1"/>
</g>
</g>
<ellipse cx="435" cy="957.5" rx="4" ry="1.6" fill="#8b7a69" opacity="0.55"/>
<ellipse cx="443" cy="957.5" rx="4" ry="1.6" fill="#8b7a69" opacity="0.55"/>
<ellipse cx="451" cy="957.5" rx="4" ry="1.6" fill="#8b7a69" opacity="0.55"/>
<ellipse cx="459" cy="957.5" rx="4" ry="1.6" fill="#8b7a69" opacity="0.55"/>
<ellipse cx="467" cy="957.5" rx="4" ry="1.6" fill="#8b7a69" opacity="0.55"/>
<ellipse cx="475" cy="957.5" rx="4" ry="1.6" fill="#8b7a69" opacity="0.55"/>
<ellipse cx="483" cy="957.5" rx="4" ry="1.6" fill="#8b7a69" opacity="0.55"/>
<ellipse cx="491" cy="957.5" rx="4" ry="1.6" fill="#8b7a69" opacity="0.55"/>
<ellipse cx="499" cy="957.5" rx="4" ry="1.6" fill="#8b7a69" opacity="0.55"/>
<path d="M322.0,328.0 C322.0,328.3 322.0,323.8 322.0,330.0 C322.0,336.2 322.0,353.0 322.0,365.0 C322.0,377.0 322.0,389.7 322.0,402.0 C322.0,414.3 322.0,427.8 322.0,439.0 C322.0,450.2 322.0,459.3 322.0,469.5 C322.0,479.7 322.0,488.6 322.0,500.0 C322.0,511.4 322.0,527.3 322.0,538.0 C322.0,548.7 322.0,555.3 322.0,564.0 C322.0,572.7 322.0,579.8 322.0,590.0 C322.0,600.2 322.0,614.2 322.0,625.0 C322.0,635.8 322.0,650.0 322.0,655.0 L328.0,655.0 C329.3,650.0 333.8,635.8 336.0,625.0 C338.2,614.2 340.1,600.2 341.5,590.0 C342.9,579.8 343.3,572.7 344.2,564.0 C345.2,555.3 346.0,548.7 347.0,538.0 C348.0,527.3 349.1,511.4 350.0,500.0 C350.9,488.6 351.7,479.7 352.5,469.5 C353.3,459.3 354.3,450.2 355.0,439.0 C355.7,427.8 356.2,414.3 356.8,402.0 C357.3,389.7 358.1,377.0 358.5,365.0 C358.9,353.0 358.9,336.2 359.0,330.0 C359.1,323.8 359.0,328.3 359.0,328.0 Z" fill="#dccbb7"/>
<g clip-path="url(#csd1)"><g filter="url(#b1)">
<path d="M335.1,328.0 C335.1,328.3 335.1,323.8 335.1,330.0 C335.1,336.2 335.0,353.0 334.9,365.0 C334.8,377.0 334.5,389.7 334.3,402.0 C334.1,414.3 333.9,427.8 333.7,439.0 C333.4,450.2 333.1,459.3 332.8,469.5 C332.5,479.7 332.2,488.6 331.9,500.0 C331.6,511.4 331.2,527.3 330.8,538.0 C330.5,548.7 330.2,555.3 329.9,564.0 C329.5,572.7 329.4,579.8 328.9,590.0 C328.4,600.2 327.7,614.2 327.0,625.0 C326.2,635.8 324.6,650.0 324.1,655.0" fill="none" stroke="#ebdfce" stroke-width="3.6" opacity="1"/>
<path d="M328.9,328.0 C328.9,328.3 328.9,323.8 328.9,330.0 C328.9,336.2 328.9,353.0 328.8,365.0 C328.8,377.0 328.6,389.7 328.5,402.0 C328.4,414.3 328.3,427.8 328.2,439.0 C328.0,450.2 327.9,459.3 327.7,469.5 C327.5,479.7 327.4,488.6 327.2,500.0 C327.1,511.4 326.9,527.3 326.7,538.0 C326.5,548.7 326.3,555.3 326.2,564.0 C326.0,572.7 325.9,579.8 325.6,590.0 C325.4,600.2 325.0,614.2 324.6,625.0 C324.2,635.8 323.4,650.0 323.1,655.0" fill="none" stroke="#bca994" stroke-width="2.3" opacity="1"/>
<path d="M346.8,328.0 C346.8,328.3 346.8,323.8 346.8,330.0 C346.7,336.2 346.7,353.0 346.4,365.0 C346.2,377.0 345.7,389.7 345.3,402.0 C344.9,414.3 344.6,427.8 344.1,439.0 C343.6,450.2 343.0,459.3 342.4,469.5 C341.9,479.7 341.4,488.6 340.8,500.0 C340.1,511.4 339.4,527.3 338.7,538.0 C338.1,548.7 337.5,555.3 336.9,564.0 C336.3,572.7 336.0,579.8 335.1,590.0 C334.1,600.2 332.9,614.2 331.4,625.0 C329.9,635.8 326.9,650.0 326.0,655.0" fill="none" stroke="#e4d6c3" stroke-width="3.1" opacity="1"/>
<path d="M340.6,328.0 C340.6,328.3 340.7,323.8 340.6,330.0 C340.6,336.2 340.5,353.0 340.4,365.0 C340.2,377.0 339.8,389.7 339.5,402.0 C339.2,414.3 339.0,427.8 338.6,439.0 C338.2,450.2 337.8,459.3 337.3,469.5 C336.9,479.7 336.5,488.6 336.1,500.0 C335.6,511.4 335.1,527.3 334.6,538.0 C334.1,548.7 333.7,555.3 333.2,564.0 C332.7,572.7 332.5,579.8 331.8,590.0 C331.1,600.2 330.2,614.2 329.0,625.0 C327.9,635.8 325.7,650.0 325.0,655.0" fill="none" stroke="#c7b5a0" stroke-width="2.7" opacity="1"/>
<path d="M360.6,328.0 C360.6,328.3 360.7,323.8 360.6,330.0 C360.5,336.2 360.5,353.0 360.1,365.0 C359.7,377.0 358.8,389.7 358.2,402.0 C357.6,414.3 357.2,427.8 356.4,439.0 C355.7,450.2 354.7,459.3 353.8,469.5 C352.9,479.7 352.2,488.6 351.2,500.0 C350.2,511.4 349.1,527.3 348.1,538.0 C347.1,548.7 346.2,555.3 345.2,564.0 C344.2,572.7 343.8,579.8 342.3,590.0 C340.9,600.2 338.9,614.2 336.6,625.0 C334.3,635.8 329.6,650.0 328.3,655.0" fill="none" stroke="#ebdfce" stroke-width="4.0" opacity="1"/>
<path d="M354.4,328.0 C354.4,328.3 354.5,323.8 354.4,330.0 C354.3,336.2 354.3,353.0 354.0,365.0 C353.7,377.0 353.0,389.7 352.4,402.0 C351.9,414.3 351.5,427.8 350.9,439.0 C350.3,450.2 349.5,459.3 348.7,469.5 C348.0,479.7 347.3,488.6 346.5,500.0 C345.7,511.4 344.7,527.3 343.9,538.0 C343.1,548.7 342.3,555.3 341.5,564.0 C340.7,572.7 340.3,579.8 339.1,590.0 C337.9,600.2 336.2,614.2 334.3,625.0 C332.3,635.8 328.4,650.0 327.3,655.0" fill="none" stroke="#bca994" stroke-width="2.7" opacity="1"/>
</g>
</g>
<path d="M320.0,681.0 C320.0,685.3 320.0,698.3 320.0,707.0 C320.0,715.7 320.0,720.5 320.0,733.0 C320.0,745.5 320.0,770.8 320.0,782.0 C320.0,793.2 320.0,790.8 320.0,800.0 C320.0,809.2 320.0,824.7 320.0,837.0 C320.0,849.3 320.0,862.7 320.0,874.0 C320.0,885.3 320.0,894.7 320.0,905.0 C320.0,915.3 320.0,925.7 320.0,936.0 C320.0,946.3 320.0,956.7 320.0,967.0 C320.0,977.3 320.0,984.7 320.0,998.0 C320.0,1011.3 320.0,1038.8 320.0,1047.0 L350.0,1047.0 C349.6,1038.8 348.2,1011.3 347.5,998.0 C346.8,984.7 346.2,977.3 345.6,967.0 C345.0,956.7 344.4,946.3 343.8,936.0 C343.1,925.7 342.5,915.3 341.9,905.0 C341.2,894.7 340.6,885.3 340.0,874.0 C339.4,862.7 338.7,849.3 338.0,837.0 C337.3,824.7 336.5,809.2 336.0,800.0 C335.5,790.8 335.7,793.2 335.0,782.0 C334.3,770.8 332.9,745.5 332.0,733.0 C331.1,720.5 330.3,715.7 329.5,707.0 C328.7,698.3 327.4,685.3 327.0,681.0 Z" fill="#dccbb7"/>
<g clip-path="url(#csd2)"><g filter="url(#b1)">
<path d="M324.0,681.0 C324.3,685.3 325.0,698.3 325.5,707.0 C326.0,715.7 326.4,720.5 326.9,733.0 C327.5,745.5 328.3,770.8 328.7,782.0 C329.0,793.2 328.9,790.8 329.2,800.0 C329.5,809.2 330.0,824.7 330.4,837.0 C330.8,849.3 331.2,862.7 331.5,874.0 C331.9,885.3 332.3,894.7 332.6,905.0 C333.0,915.3 333.4,925.7 333.7,936.0 C334.1,946.3 334.4,956.7 334.8,967.0 C335.2,977.3 335.5,984.7 335.9,998.0 C336.3,1011.3 337.1,1038.8 337.3,1047.0" fill="none" stroke="#e9dccb" stroke-width="3.3" opacity="1"/>
<path d="M322.3,681.0 C322.4,685.3 322.8,698.3 323.1,707.0 C323.4,715.7 323.6,720.5 323.9,733.0 C324.2,745.5 324.7,770.8 324.9,782.0 C325.1,793.2 325.1,790.8 325.2,800.0 C325.4,809.2 325.7,824.7 325.9,837.0 C326.1,849.3 326.3,862.7 326.5,874.0 C326.8,885.3 327.0,894.7 327.2,905.0 C327.4,915.3 327.6,925.7 327.8,936.0 C328.0,946.3 328.2,956.7 328.4,967.0 C328.6,977.3 328.8,984.7 329.0,998.0 C329.2,1011.3 329.7,1038.8 329.8,1047.0" fill="none" stroke="#bfad98" stroke-width="2.0" opacity="1"/>
<path d="M327.0,681.0 C327.5,685.3 328.7,698.3 329.6,707.0 C330.4,715.7 331.1,720.5 332.1,733.0 C333.0,745.5 334.4,770.8 335.1,782.0 C335.8,793.2 335.6,790.8 336.1,800.0 C336.6,809.2 337.4,824.7 338.1,837.0 C338.8,849.3 339.5,862.7 340.1,874.0 C340.8,885.3 341.4,894.7 342.0,905.0 C342.6,915.3 343.3,925.7 343.9,936.0 C344.5,946.3 345.1,956.7 345.8,967.0 C346.4,977.3 346.9,984.7 347.7,998.0 C348.4,1011.3 349.8,1038.8 350.2,1047.0" fill="none" stroke="#e9dccb" stroke-width="3.1" opacity="1"/>
<path d="M325.3,681.0 C325.6,685.3 326.5,698.3 327.2,707.0 C327.8,715.7 328.4,720.5 329.1,733.0 C329.8,745.5 330.8,770.8 331.3,782.0 C331.8,793.2 331.7,790.8 332.1,800.0 C332.5,809.2 333.1,824.7 333.6,837.0 C334.1,849.3 334.6,862.7 335.1,874.0 C335.6,885.3 336.1,894.7 336.5,905.0 C337.0,915.3 337.5,925.7 337.9,936.0 C338.4,946.3 338.9,956.7 339.4,967.0 C339.8,977.3 340.2,984.7 340.8,998.0 C341.3,1011.3 342.4,1038.8 342.7,1047.0" fill="none" stroke="#bfad98" stroke-width="2.5" opacity="1"/>
</g>
</g>
<path d="M128.0,312.0 C128.0,313.0 127.5,311.7 128.0,318.0 C128.5,324.3 129.5,338.2 131.0,350.0 C132.5,361.8 134.0,374.3 137.0,389.0 C140.0,403.7 144.6,422.8 149.0,438.0 C153.4,453.2 158.2,466.8 163.3,480.0 C168.4,493.2 173.7,505.4 179.6,517.0 C185.5,528.6 191.6,538.6 199.0,549.7 C206.4,560.8 214.9,571.9 224.0,583.7 C233.1,595.6 244.5,610.1 253.7,620.8 C262.9,631.5 274.4,642.6 279.0,648.0 C283.6,653.4 280.7,652.2 281.0,653.0 L290.0,653.0 C290.0,652.2 290.0,653.4 290.0,648.0 C290.0,642.6 290.0,631.5 290.0,620.8 C290.0,610.1 290.0,595.6 290.0,583.7 C290.0,571.9 290.0,560.8 290.0,549.7 C290.0,538.6 290.0,528.6 290.0,517.0 C290.0,505.4 290.0,493.2 290.0,480.0 C290.0,466.8 290.0,453.2 290.0,438.0 C290.0,422.8 290.0,403.7 290.0,389.0 C290.0,374.3 290.0,361.8 290.0,350.0 C290.0,338.2 290.0,324.3 290.0,318.0 C290.0,311.7 290.0,313.0 290.0,312.0 Z" fill="#d6c4af"/>
<g clip-path="url(#cfr1)"><g filter="url(#b1)">
<path d="M143.6,312.0 C143.6,313.0 143.1,311.7 143.6,318.0 C144.0,324.3 144.9,338.2 146.3,350.0 C147.7,361.8 149.0,374.3 151.7,389.0 C154.4,403.7 158.6,422.8 162.6,438.0 C166.5,453.2 170.9,466.8 175.5,480.0 C180.1,493.2 184.8,505.4 190.2,517.0 C195.6,528.6 201.1,538.6 207.8,549.7 C214.4,560.8 222.1,571.9 230.4,583.7 C238.6,595.6 248.9,610.1 257.2,620.8 C265.5,631.5 275.9,642.6 280.1,648.0 C284.2,653.4 281.6,652.2 281.9,653.0" fill="none" stroke="#ece0d0" stroke-width="5.7" opacity="1"/>
<path d="M139.0,312.0 C139.0,313.0 138.5,311.7 139.0,318.0 C139.5,324.3 140.4,338.2 141.8,350.0 C143.2,361.8 144.6,374.3 147.4,389.0 C150.2,403.7 154.5,422.8 158.6,438.0 C162.7,453.2 167.1,466.8 171.9,480.0 C176.7,493.2 181.5,505.4 187.1,517.0 C192.6,528.6 198.3,538.6 205.2,549.7 C212.1,560.8 220.0,571.9 228.5,583.7 C237.0,595.6 247.6,610.1 256.2,620.8 C264.7,631.5 275.5,642.6 279.7,648.0 C284.0,653.4 281.3,652.2 281.6,653.0" fill="none" stroke="#bfac97" stroke-width="2.6" opacity="0.8"/>
<path d="M136.8,312.0 C136.8,313.0 136.4,311.7 136.8,318.0 C137.3,324.3 138.3,338.2 139.7,350.0 C141.1,361.8 142.5,374.3 145.3,389.0 C148.2,403.7 152.5,422.8 156.7,438.0 C160.8,453.2 165.4,466.8 170.2,480.0 C175.0,493.2 180.0,505.4 185.6,517.0 C191.2,528.6 197.0,538.6 204.0,549.7 C211.0,560.8 219.0,571.9 227.6,583.7 C236.2,595.6 247.0,610.1 255.7,620.8 C264.3,631.5 275.3,642.6 279.6,648.0 C283.9,653.4 281.2,652.2 281.5,653.0" fill="none" stroke="#9d8a75" stroke-width="1.8" opacity="1"/>
<path d="M155.2,312.0 C155.2,313.0 154.7,311.7 155.2,318.0 C155.6,324.3 156.4,338.2 157.7,350.0 C158.9,361.8 160.1,374.3 162.6,389.0 C165.1,403.7 169.0,422.8 172.6,438.0 C176.3,453.2 180.3,466.8 184.5,480.0 C188.8,493.2 193.2,505.4 198.1,517.0 C203.1,528.6 208.1,538.6 214.3,549.7 C220.4,560.8 227.5,571.9 235.1,583.7 C242.7,595.6 252.2,610.1 259.8,620.8 C267.4,631.5 277.1,642.6 280.8,648.0 C284.6,653.4 282.2,652.2 282.5,653.0" fill="none" stroke="#e7dac8" stroke-width="5.3" opacity="1"/>
<path d="M150.6,312.0 C150.6,313.0 150.1,311.7 150.6,318.0 C151.0,324.3 151.9,338.2 153.1,350.0 C154.4,361.8 155.7,374.3 158.3,389.0 C160.9,403.7 164.9,422.8 168.6,438.0 C172.4,453.2 176.6,466.8 180.9,480.0 C185.3,493.2 189.9,505.4 195.0,517.0 C200.1,528.6 205.3,538.6 211.7,549.7 C218.0,560.8 225.3,571.9 233.2,583.7 C241.0,595.6 250.9,610.1 258.8,620.8 C266.6,631.5 276.6,642.6 280.5,648.0 C284.4,653.4 282.0,652.2 282.3,653.0" fill="none" stroke="#c6b39e" stroke-width="2.6" opacity="0.8"/>
<path d="M148.4,312.0 C148.4,313.0 148.0,311.7 148.4,318.0 C148.8,324.3 149.7,338.2 151.0,350.0 C152.3,361.8 153.6,374.3 156.3,389.0 C158.9,403.7 162.9,422.8 166.8,438.0 C170.6,453.2 174.8,466.8 179.3,480.0 C183.7,493.2 188.3,505.4 193.5,517.0 C198.7,528.6 204.0,538.6 210.5,549.7 C216.9,560.8 224.3,571.9 232.3,583.7 C240.3,595.6 250.3,610.1 258.3,620.8 C266.3,631.5 276.4,642.6 280.4,648.0 C284.4,653.4 281.8,652.2 282.1,653.0" fill="none" stroke="#a8957f" stroke-width="2.2" opacity="1"/>
<path d="M171.9,312.0 C171.9,313.0 171.5,311.7 171.9,318.0 C172.2,324.3 173.0,338.2 174.0,350.0 C175.1,361.8 176.2,374.3 178.4,389.0 C180.6,403.7 184.0,422.8 187.2,438.0 C190.4,453.2 193.9,466.8 197.6,480.0 C201.3,493.2 205.2,505.4 209.5,517.0 C213.8,528.6 218.2,538.6 223.6,549.7 C229.0,560.8 235.2,571.9 241.9,583.7 C248.5,595.6 256.8,610.1 263.5,620.8 C270.2,631.5 278.7,642.6 282.0,648.0 C285.3,653.4 283.2,652.2 283.4,653.0" fill="none" stroke="#efe5d6" stroke-width="5.2" opacity="1"/>
<path d="M167.3,312.0 C167.3,313.0 166.9,311.7 167.3,318.0 C167.6,324.3 168.4,338.2 169.5,350.0 C170.7,361.8 171.8,374.3 174.1,389.0 C176.4,403.7 179.9,422.8 183.2,438.0 C186.5,453.2 190.1,466.8 194.0,480.0 C197.9,493.2 201.9,505.4 206.4,517.0 C210.9,528.6 215.5,538.6 221.1,549.7 C226.7,560.8 233.1,571.9 240.0,583.7 C246.9,595.6 255.6,610.1 262.5,620.8 C269.4,631.5 278.2,642.6 281.7,648.0 C285.1,653.4 282.9,652.2 283.2,653.0" fill="none" stroke="#bfac97" stroke-width="2.6" opacity="0.8"/>
<path d="M165.1,312.0 C165.1,313.0 164.7,311.7 165.1,318.0 C165.5,324.3 166.3,338.2 167.4,350.0 C168.6,361.8 169.7,374.3 172.0,389.0 C174.4,403.7 177.9,422.8 181.3,438.0 C184.7,453.2 188.4,466.8 192.3,480.0 C196.3,493.2 200.3,505.4 204.9,517.0 C209.5,528.6 214.1,538.6 219.8,549.7 C225.6,560.8 232.1,571.9 239.1,583.7 C246.1,595.6 254.9,610.1 262.0,620.8 C269.1,631.5 278.0,642.6 281.5,648.0 C285.0,653.4 282.8,652.2 283.1,653.0" fill="none" stroke="#948170" stroke-width="2.2" opacity="1"/>
<path d="M183.8,312.0 C183.8,313.0 183.5,311.7 183.8,318.0 C184.2,324.3 184.8,338.2 185.8,350.0 C186.8,361.8 187.8,374.3 189.7,389.0 C191.7,403.7 194.7,422.8 197.6,438.0 C200.5,453.2 203.6,466.8 207.0,480.0 C210.3,493.2 213.7,505.4 217.6,517.0 C221.5,528.6 225.5,538.6 230.4,549.7 C235.2,560.8 240.8,571.9 246.7,583.7 C252.7,595.6 260.2,610.1 266.2,620.8 C272.2,631.5 279.8,642.6 282.8,648.0 C285.8,653.4 283.9,652.2 284.1,653.0" fill="none" stroke="#ece0d0" stroke-width="4.5" opacity="1"/>
<path d="M179.2,312.0 C179.2,313.0 178.9,311.7 179.2,318.0 C179.6,324.3 180.3,338.2 181.3,350.0 C182.3,361.8 183.3,374.3 185.4,389.0 C187.4,403.7 190.6,422.8 193.6,438.0 C196.6,453.2 199.9,466.8 203.4,480.0 C206.9,493.2 210.4,505.4 214.5,517.0 C218.6,528.6 222.7,538.6 227.8,549.7 C232.8,560.8 238.6,571.9 244.9,583.7 C251.1,595.6 258.9,610.1 265.2,620.8 C271.4,631.5 279.4,642.6 282.5,648.0 C285.6,653.4 283.6,652.2 283.8,653.0" fill="none" stroke="#c6b39e" stroke-width="2.6" opacity="0.8"/>
<path d="M177.1,312.0 C177.1,313.0 176.7,311.7 177.1,318.0 C177.4,324.3 178.1,338.2 179.2,350.0 C180.2,361.8 181.3,374.3 183.3,389.0 C185.4,403.7 188.7,422.8 191.7,438.0 C194.8,453.2 198.1,466.8 201.7,480.0 C205.2,493.2 208.9,505.4 213.0,517.0 C217.2,528.6 221.4,538.6 226.6,549.7 C231.7,560.8 237.6,571.9 244.0,583.7 C250.3,595.6 258.3,610.1 264.7,620.8 C271.1,631.5 279.2,642.6 282.3,648.0 C285.5,653.4 283.5,652.2 283.7,653.0" fill="none" stroke="#ad9a84" stroke-width="2.5" opacity="1"/>
<path d="M194.9,312.0 C194.9,313.0 194.6,311.7 194.9,318.0 C195.2,324.3 195.8,338.2 196.6,350.0 C197.5,361.8 198.4,374.3 200.2,389.0 C201.9,403.7 204.6,422.8 207.2,438.0 C209.8,453.2 212.6,466.8 215.6,480.0 C218.6,493.2 221.7,505.4 225.2,517.0 C228.7,528.6 232.2,538.6 236.6,549.7 C240.9,560.8 245.9,571.9 251.2,583.7 C256.6,595.6 263.3,610.1 268.7,620.8 C274.1,631.5 280.9,642.6 283.5,648.0 C286.2,653.4 284.5,652.2 284.7,653.0" fill="none" stroke="#e7dac8" stroke-width="5.0" opacity="1"/>
<path d="M190.3,312.0 C190.3,313.0 190.0,311.7 190.3,318.0 C190.6,324.3 191.2,338.2 192.1,350.0 C193.1,361.8 194.0,374.3 195.8,389.0 C197.7,403.7 200.5,422.8 203.2,438.0 C205.9,453.2 208.9,466.8 212.0,480.0 C215.2,493.2 218.4,505.4 222.0,517.0 C225.7,528.6 229.4,538.6 234.0,549.7 C238.5,560.8 243.8,571.9 249.4,583.7 C255.0,595.6 262.0,610.1 267.7,620.8 C273.3,631.5 280.4,642.6 283.2,648.0 C286.0,653.4 284.3,652.2 284.5,653.0" fill="none" stroke="#bfac97" stroke-width="2.6" opacity="0.8"/>
<path d="M188.1,312.0 C188.1,313.0 187.8,311.7 188.1,318.0 C188.4,324.3 189.1,338.2 190.0,350.0 C191.0,361.8 191.9,374.3 193.8,389.0 C195.7,403.7 198.6,422.8 201.3,438.0 C204.1,453.2 207.1,466.8 210.3,480.0 C213.5,493.2 216.8,505.4 220.6,517.0 C224.3,528.6 228.1,538.6 232.8,549.7 C237.4,560.8 242.8,571.9 248.5,583.7 C254.2,595.6 261.4,610.1 267.2,620.8 C272.9,631.5 280.2,642.6 283.1,648.0 C285.9,653.4 284.1,652.2 284.3,653.0" fill="none" stroke="#9d8a75" stroke-width="2.4" opacity="1"/>
<path d="M209.1,312.0 C209.1,313.0 208.9,311.7 209.1,318.0 C209.4,324.3 209.9,338.2 210.6,350.0 C211.4,361.8 212.1,374.3 213.6,389.0 C215.1,403.7 217.4,422.8 219.6,438.0 C221.8,453.2 224.2,466.8 226.8,480.0 C229.3,493.2 231.9,505.4 234.9,517.0 C237.9,528.6 240.9,538.6 244.6,549.7 C248.3,560.8 252.5,571.9 257.1,583.7 C261.6,595.6 267.3,610.1 271.9,620.8 C276.5,631.5 282.2,642.6 284.5,648.0 C286.8,653.4 285.3,652.2 285.5,653.0" fill="none" stroke="#efe5d6" stroke-width="5.2" opacity="1"/>
<path d="M204.6,312.0 C204.6,313.0 204.3,311.7 204.6,318.0 C204.8,324.3 205.3,338.2 206.1,350.0 C206.9,361.8 207.7,374.3 209.3,389.0 C210.9,403.7 213.3,422.8 215.6,438.0 C217.9,453.2 220.5,466.8 223.2,480.0 C225.9,493.2 228.6,505.4 231.8,517.0 C234.9,528.6 238.1,538.6 242.0,549.7 C245.9,560.8 250.4,571.9 255.2,583.7 C260.0,595.6 266.0,610.1 270.9,620.8 C275.7,631.5 281.8,642.6 284.2,648.0 C286.6,653.4 285.1,652.2 285.3,653.0" fill="none" stroke="#c6b39e" stroke-width="2.6" opacity="0.8"/>
<path d="M202.4,312.0 C202.4,313.0 202.1,311.7 202.4,318.0 C202.7,324.3 203.2,338.2 204.0,350.0 C204.8,361.8 205.6,374.3 207.3,389.0 C208.9,403.7 211.4,422.8 213.8,438.0 C216.1,453.2 218.7,466.8 221.5,480.0 C224.2,493.2 227.1,505.4 230.3,517.0 C233.5,528.6 236.8,538.6 240.8,549.7 C244.8,560.8 249.4,571.9 254.3,583.7 C259.2,595.6 265.4,610.1 270.4,620.8 C275.3,631.5 281.6,642.6 284.1,648.0 C286.5,653.4 285.0,652.2 285.1,653.0" fill="none" stroke="#a8957f" stroke-width="2.1" opacity="1"/>
<path d="M222.8,312.0 C222.8,313.0 222.6,311.7 222.8,318.0 C223.1,324.3 223.5,338.2 224.1,350.0 C224.7,361.8 225.3,374.3 226.6,389.0 C227.8,403.7 229.7,422.8 231.6,438.0 C233.4,453.2 235.4,466.8 237.5,480.0 C239.6,493.2 241.8,505.4 244.2,517.0 C246.7,528.6 249.2,538.6 252.3,549.7 C255.3,560.8 258.9,571.9 262.6,583.7 C266.4,595.6 271.2,610.1 275.0,620.8 C278.8,631.5 283.6,642.6 285.4,648.0 C287.3,653.4 286.1,652.2 286.3,653.0" fill="none" stroke="#ece0d0" stroke-width="5.0" opacity="1"/>
<path d="M218.3,312.0 C218.3,313.0 218.0,311.7 218.3,318.0 C218.5,324.3 218.9,338.2 219.6,350.0 C220.2,361.8 220.9,374.3 222.2,389.0 C223.6,403.7 225.6,422.8 227.6,438.0 C229.5,453.2 231.6,466.8 233.9,480.0 C236.1,493.2 238.5,505.4 241.1,517.0 C243.7,528.6 246.4,538.6 249.7,549.7 C253.0,560.8 256.7,571.9 260.8,583.7 C264.8,595.6 269.9,610.1 273.9,620.8 C278.0,631.5 283.1,642.6 285.1,648.0 C287.1,653.4 285.9,652.2 286.0,653.0" fill="none" stroke="#bfac97" stroke-width="2.6" opacity="0.8"/>
<path d="M216.1,312.0 C216.1,313.0 215.9,311.7 216.1,318.0 C216.3,324.3 216.8,338.2 217.5,350.0 C218.1,361.8 218.8,374.3 220.2,389.0 C221.6,403.7 223.7,422.8 225.7,438.0 C227.7,453.2 229.9,466.8 232.2,480.0 C234.5,493.2 236.9,505.4 239.6,517.0 C242.4,528.6 245.1,538.6 248.5,549.7 C251.9,560.8 255.7,571.9 259.9,583.7 C264.0,595.6 269.3,610.1 273.4,620.8 C277.6,631.5 282.9,642.6 285.0,648.0 C287.1,653.4 285.7,652.2 285.9,653.0" fill="none" stroke="#948170" stroke-width="1.9" opacity="1"/>
<path d="M236.4,312.0 C236.4,313.0 236.3,311.7 236.4,318.0 C236.6,324.3 236.9,338.2 237.4,350.0 C237.9,361.8 238.4,374.3 239.4,389.0 C240.4,403.7 241.9,422.8 243.4,438.0 C244.8,453.2 246.4,466.8 248.1,480.0 C249.8,493.2 251.5,505.4 253.5,517.0 C255.5,528.6 257.5,538.6 259.9,549.7 C262.4,560.8 265.2,571.9 268.2,583.7 C271.2,595.6 275.0,610.1 278.0,620.8 C281.0,631.5 284.9,642.6 286.4,648.0 C287.9,653.4 286.9,652.2 287.0,653.0" fill="none" stroke="#e7dac8" stroke-width="5.6" opacity="1"/>
<path d="M231.8,312.0 C231.8,313.0 231.7,311.7 231.8,318.0 C232.0,324.3 232.4,338.2 232.9,350.0 C233.5,361.8 234.0,374.3 235.1,389.0 C236.1,403.7 237.8,422.8 239.4,438.0 C240.9,453.2 242.7,466.8 244.5,480.0 C246.3,493.2 248.2,505.4 250.4,517.0 C252.5,528.6 254.7,538.6 257.3,549.7 C260.0,560.8 263.0,571.9 266.3,583.7 C269.6,595.6 273.7,610.1 277.0,620.8 C280.3,631.5 284.4,642.6 286.1,648.0 C287.7,653.4 286.6,652.2 286.8,653.0" fill="none" stroke="#c6b39e" stroke-width="2.6" opacity="0.8"/>
<path d="M229.7,312.0 C229.7,313.0 229.5,311.7 229.7,318.0 C229.9,324.3 230.2,338.2 230.8,350.0 C231.4,361.8 231.9,374.3 233.0,389.0 C234.1,403.7 235.9,422.8 237.5,438.0 C239.1,453.2 240.9,466.8 242.8,480.0 C244.7,493.2 246.7,505.4 248.9,517.0 C251.1,528.6 253.4,538.6 256.1,549.7 C258.9,560.8 262.0,571.9 265.4,583.7 C268.8,595.6 273.1,610.1 276.5,620.8 C279.9,631.5 284.2,642.6 285.9,648.0 C287.6,653.4 286.5,652.2 286.6,653.0" fill="none" stroke="#ad9a84" stroke-width="1.5" opacity="1"/>
<path d="M246.4,312.0 C246.4,313.0 246.3,311.7 246.4,318.0 C246.6,324.3 246.8,338.2 247.2,350.0 C247.6,361.8 248.0,374.3 248.8,389.0 C249.7,403.7 250.9,422.8 252.1,438.0 C253.3,453.2 254.5,466.8 255.9,480.0 C257.3,493.2 258.7,505.4 260.3,517.0 C261.9,528.6 263.5,538.6 265.5,549.7 C267.5,560.8 269.8,571.9 272.2,583.7 C274.7,595.6 277.8,610.1 280.2,620.8 C282.7,631.5 285.8,642.6 287.0,648.0 C288.3,653.4 287.5,652.2 287.6,653.0" fill="none" stroke="#efe5d6" stroke-width="6.0" opacity="1"/>
<path d="M241.8,312.0 C241.8,313.0 241.7,311.7 241.8,318.0 C242.0,324.3 242.3,338.2 242.7,350.0 C243.2,361.8 243.6,374.3 244.5,389.0 C245.4,403.7 246.8,422.8 248.1,438.0 C249.4,453.2 250.8,466.8 252.3,480.0 C253.8,493.2 255.4,505.4 257.2,517.0 C258.9,528.6 260.7,538.6 262.9,549.7 C265.1,560.8 267.7,571.9 270.4,583.7 C273.1,595.6 276.5,610.1 279.2,620.8 C281.9,631.5 285.4,642.6 286.7,648.0 C288.1,653.4 287.2,652.2 287.3,653.0" fill="none" stroke="#bfac97" stroke-width="2.6" opacity="0.8"/>
<path d="M239.7,312.0 C239.7,313.0 239.5,311.7 239.7,318.0 C239.8,324.3 240.1,338.2 240.6,350.0 C241.1,361.8 241.5,374.3 242.5,389.0 C243.4,403.7 244.8,422.8 246.2,438.0 C247.6,453.2 249.1,466.8 250.6,480.0 C252.2,493.2 253.9,505.4 255.7,517.0 C257.6,528.6 259.4,538.6 261.7,549.7 C264.0,560.8 266.7,571.9 269.5,583.7 C272.3,595.6 275.9,610.1 278.7,620.8 C281.6,631.5 285.2,642.6 286.6,648.0 C288.0,653.4 287.1,652.2 287.2,653.0" fill="none" stroke="#9d8a75" stroke-width="1.6" opacity="1"/>
<path d="M264.1,312.0 C264.1,313.0 264.1,311.7 264.1,318.0 C264.2,324.3 264.4,338.2 264.6,350.0 C264.9,361.8 265.1,374.3 265.6,389.0 C266.0,403.7 266.8,422.8 267.5,438.0 C268.2,453.2 269.0,466.8 269.8,480.0 C270.6,493.2 271.4,505.4 272.4,517.0 C273.3,528.6 274.3,538.6 275.5,549.7 C276.7,560.8 278.0,571.9 279.5,583.7 C280.9,595.6 282.7,610.1 284.2,620.8 C285.7,631.5 287.5,642.6 288.2,648.0 C289.0,653.4 288.5,652.2 288.6,653.0" fill="none" stroke="#ece0d0" stroke-width="5.4" opacity="1"/>
<path d="M259.5,312.0 C259.5,313.0 259.4,311.7 259.5,318.0 C259.6,324.3 259.8,338.2 260.1,350.0 C260.4,361.8 260.7,374.3 261.2,389.0 C261.8,403.7 262.7,422.8 263.5,438.0 C264.3,453.2 265.2,466.8 266.2,480.0 C267.1,493.2 268.1,505.4 269.2,517.0 C270.4,528.6 271.5,538.6 272.9,549.7 C274.3,560.8 275.9,571.9 277.6,583.7 C279.3,595.6 281.5,610.1 283.2,620.8 C284.9,631.5 287.1,642.6 287.9,648.0 C288.8,653.4 288.2,652.2 288.3,653.0" fill="none" stroke="#c6b39e" stroke-width="2.6" opacity="0.8"/>
<path d="M257.4,312.0 C257.4,313.0 257.3,311.7 257.4,318.0 C257.5,324.3 257.7,338.2 258.0,350.0 C258.3,361.8 258.6,374.3 259.2,389.0 C259.8,403.7 260.7,422.8 261.6,438.0 C262.5,453.2 263.5,466.8 264.5,480.0 C265.5,493.2 266.6,505.4 267.8,517.0 C269.0,528.6 270.2,538.6 271.7,549.7 C273.2,560.8 274.9,571.9 276.7,583.7 C278.5,595.6 280.8,610.1 282.7,620.8 C284.5,631.5 286.9,642.6 287.8,648.0 C288.7,653.4 288.1,652.2 288.2,653.0" fill="none" stroke="#a8957f" stroke-width="1.8" opacity="1"/>
<path d="M279.4,312.0 C279.4,313.0 279.3,311.7 279.4,318.0 C279.4,324.3 279.5,338.2 279.6,350.0 C279.7,361.8 279.8,374.3 280.0,389.0 C280.2,403.7 280.5,422.8 280.8,438.0 C281.0,453.2 281.4,466.8 281.7,480.0 C282.0,493.2 282.4,505.4 282.8,517.0 C283.1,528.6 283.5,538.6 284.0,549.7 C284.5,560.8 285.1,571.9 285.7,583.7 C286.3,595.6 287.0,610.1 287.6,620.8 C288.2,631.5 289.0,642.6 289.3,648.0 C289.6,653.4 289.4,652.2 289.4,653.0" fill="none" stroke="#e7dac8" stroke-width="5.4" opacity="1"/>
<path d="M274.8,312.0 C274.8,313.0 274.7,311.7 274.8,318.0 C274.8,324.3 274.9,338.2 275.1,350.0 C275.2,361.8 275.3,374.3 275.6,389.0 C275.9,403.7 276.3,422.8 276.8,438.0 C277.2,453.2 277.6,466.8 278.1,480.0 C278.6,493.2 279.1,505.4 279.6,517.0 C280.2,528.6 280.8,538.6 281.5,549.7 C282.1,560.8 282.9,571.9 283.8,583.7 C284.7,595.6 285.7,610.1 286.6,620.8 C287.5,631.5 288.5,642.6 289.0,648.0 C289.4,653.4 289.1,652.2 289.2,653.0" fill="none" stroke="#bfac97" stroke-width="2.6" opacity="0.8"/>
<path d="M272.6,312.0 C272.6,313.0 272.6,311.7 272.6,318.0 C272.7,324.3 272.8,338.2 272.9,350.0 C273.1,361.8 273.3,374.3 273.6,389.0 C273.9,403.7 274.4,422.8 274.9,438.0 C275.3,453.2 275.9,466.8 276.4,480.0 C277.0,493.2 277.5,505.4 278.2,517.0 C278.8,528.6 279.4,538.6 280.2,549.7 C281.0,560.8 281.9,571.9 282.9,583.7 C283.9,595.6 285.1,610.1 286.1,620.8 C287.1,631.5 288.3,642.6 288.8,648.0 C289.3,653.4 289.0,652.2 289.0,653.0" fill="none" stroke="#948170" stroke-width="1.4" opacity="1"/>
<path d="M288.1,312.0 C288.1,313.0 288.1,311.7 288.1,318.0 C288.1,324.3 288.1,338.2 288.2,350.0 C288.2,361.8 288.2,374.3 288.2,389.0 C288.3,403.7 288.3,422.8 288.4,438.0 C288.4,453.2 288.5,466.8 288.5,480.0 C288.6,493.2 288.7,505.4 288.7,517.0 C288.8,528.6 288.9,538.6 288.9,549.7 C289.0,560.8 289.1,571.9 289.2,583.7 C289.3,595.6 289.5,610.1 289.6,620.8 C289.7,631.5 289.8,642.6 289.9,648.0 C289.9,653.4 289.9,652.2 289.9,653.0" fill="none" stroke="#efe5d6" stroke-width="5.9" opacity="1"/>
<path d="M283.5,312.0 C283.5,313.0 283.5,311.7 283.5,318.0 C283.6,324.3 283.6,338.2 283.7,350.0 C283.7,361.8 283.8,374.3 283.9,389.0 C284.0,403.7 284.2,422.8 284.4,438.0 C284.6,453.2 284.7,466.8 284.9,480.0 C285.1,493.2 285.4,505.4 285.6,517.0 C285.8,528.6 286.1,538.6 286.4,549.7 C286.7,560.8 287.0,571.9 287.4,583.7 C287.7,595.6 288.2,610.1 288.6,620.8 C288.9,631.5 289.4,642.6 289.6,648.0 C289.7,653.4 289.6,652.2 289.6,653.0" fill="none" stroke="#c6b39e" stroke-width="2.6" opacity="0.8"/>
<path d="M281.4,312.0 C281.4,313.0 281.4,311.7 281.4,318.0 C281.4,324.3 281.5,338.2 281.5,350.0 C281.6,361.8 281.7,374.3 281.9,389.0 C282.0,403.7 282.3,422.8 282.5,438.0 C282.7,453.2 283.0,466.8 283.3,480.0 C283.5,493.2 283.8,505.4 284.1,517.0 C284.4,528.6 284.8,538.6 285.2,549.7 C285.6,560.8 286.0,571.9 286.5,583.7 C287.0,595.6 287.6,610.1 288.1,620.8 C288.6,631.5 289.2,642.6 289.4,648.0 C289.7,653.4 289.5,652.2 289.5,653.0" fill="none" stroke="#ad9a84" stroke-width="2.3" opacity="1"/>
</g>
</g>
<path d="M281.0,686.0 C277.3,690.5 265.7,703.2 259.0,713.0 C252.3,722.8 245.6,733.5 241.0,745.0 C236.4,756.5 234.7,769.7 231.5,782.0 C228.3,794.3 224.9,806.0 222.0,819.0 C219.1,832.0 215.8,850.8 214.0,860.0 C212.2,869.2 212.9,866.9 211.5,874.0 C210.1,881.1 207.6,893.1 205.7,902.7 C203.7,912.2 201.8,921.8 199.8,931.3 C197.9,940.9 195.9,950.4 194.0,960.0 C192.1,969.6 190.2,979.3 188.3,989.0 C186.4,998.7 184.6,1008.3 182.7,1018.0 C180.8,1027.7 177.9,1041.3 177.0,1047.0 C176.1,1052.7 177.0,1050.8 177.0,1052.0 C177.0,1053.2 177.0,1053.7 177.0,1054.0 L300.0,1054.0 C300.0,1053.7 300.0,1053.2 300.0,1052.0 C300.0,1050.8 300.0,1052.7 300.0,1047.0 C300.0,1041.3 300.0,1027.7 300.0,1018.0 C300.0,1008.3 300.0,998.7 300.0,989.0 C300.0,979.3 300.0,969.6 300.0,960.0 C300.0,950.4 300.0,940.9 300.0,931.3 C300.0,921.8 300.0,912.2 300.0,902.7 C300.0,893.1 300.0,881.1 300.0,874.0 C300.0,866.9 300.0,869.2 300.0,860.0 C300.0,850.8 300.0,832.0 300.0,819.0 C300.0,806.0 300.0,794.3 300.0,782.0 C300.0,769.7 300.0,756.5 300.0,745.0 C300.0,733.5 300.0,722.8 300.0,713.0 C300.0,703.2 300.0,690.5 300.0,686.0 Z" fill="#dccab6"/>
<g clip-path="url(#cfr2)"><g filter="url(#b1)">
<path d="M284.9,686.0 C282.0,690.5 272.7,703.2 267.4,713.0 C262.1,722.8 256.8,733.5 253.1,745.0 C249.5,756.5 248.1,769.7 245.6,782.0 C243.1,794.3 240.3,806.0 238.0,819.0 C235.7,832.0 233.1,850.8 231.7,860.0 C230.3,869.2 230.8,866.9 229.7,874.0 C228.6,881.1 226.6,893.1 225.1,902.7 C223.5,912.2 222.0,921.8 220.4,931.3 C218.9,940.9 217.3,950.4 215.8,960.0 C214.3,969.6 212.8,979.3 211.3,989.0 C209.8,998.7 208.3,1008.3 206.8,1018.0 C205.3,1027.7 203.0,1041.3 202.3,1047.0 C201.5,1052.7 202.3,1050.8 202.3,1052.0 C202.3,1053.2 202.3,1053.7 202.3,1054.0" fill="none" stroke="#eadccb" stroke-width="7.5" opacity="1"/>
<path d="M283.8,686.0 C280.7,690.5 270.8,703.2 265.1,713.0 C259.4,722.8 253.7,733.5 249.8,745.0 C245.9,756.5 244.4,769.7 241.7,782.0 C239.0,794.3 236.1,806.0 233.6,819.0 C231.1,832.0 228.3,850.8 226.8,860.0 C225.3,869.2 225.9,866.9 224.7,874.0 C223.5,881.1 221.4,893.1 219.7,902.7 C218.1,912.2 216.4,921.8 214.7,931.3 C213.1,940.9 211.4,950.4 209.8,960.0 C208.1,969.6 206.6,979.3 205.0,989.0 C203.3,998.7 201.7,1008.3 200.1,1018.0 C198.5,1027.7 196.1,1041.3 195.3,1047.0 C194.5,1052.7 195.3,1050.8 195.3,1052.0 C195.3,1053.2 195.3,1053.7 195.3,1054.0" fill="none" stroke="#c8b6a1" stroke-width="2.6" opacity="0.8"/>
<path d="M283.3,686.0 C280.1,690.5 269.9,703.2 264.0,713.0 C258.2,722.8 252.2,733.5 248.2,745.0 C244.2,756.5 242.6,769.7 239.9,782.0 C237.1,794.3 234.1,806.0 231.5,819.0 C229.0,832.0 226.0,850.8 224.5,860.0 C223.0,869.2 223.5,866.9 222.3,874.0 C221.1,881.1 218.9,893.1 217.2,902.7 C215.5,912.2 213.8,921.8 212.1,931.3 C210.4,940.9 208.6,950.4 207.0,960.0 C205.3,969.6 203.6,979.3 202.0,989.0 C200.3,998.7 198.7,1008.3 197.0,1018.0 C195.3,1027.7 192.9,1041.3 192.0,1047.0 C191.2,1052.7 192.0,1050.8 192.0,1052.0 C192.0,1053.2 192.0,1053.7 192.0,1054.0" fill="none" stroke="#a8957f" stroke-width="2.2" opacity="1"/>
<path d="M287.2,686.0 C284.8,690.5 277.0,703.2 272.5,713.0 C268.0,722.8 263.5,733.5 260.4,745.0 C257.3,756.5 256.1,769.7 254.0,782.0 C251.9,794.3 249.6,806.0 247.6,819.0 C245.7,832.0 243.5,850.8 242.3,860.0 C241.1,869.2 241.5,866.9 240.6,874.0 C239.7,881.1 238.0,893.1 236.7,902.7 C235.4,912.2 234.1,921.8 232.8,931.3 C231.5,940.9 230.1,950.4 228.9,960.0 C227.6,969.6 226.3,979.3 225.1,989.0 C223.8,998.7 222.5,1008.3 221.2,1018.0 C220.0,1027.7 218.1,1041.3 217.4,1047.0 C216.8,1052.7 217.4,1050.8 217.4,1052.0 C217.4,1053.2 217.4,1053.7 217.4,1054.0" fill="none" stroke="#e6d8c5" stroke-width="6.3" opacity="1"/>
<path d="M286.2,686.0 C283.5,690.5 275.0,703.2 270.2,713.0 C265.3,722.8 260.4,733.5 257.1,745.0 C253.7,756.5 252.4,769.7 250.1,782.0 C247.8,794.3 245.4,806.0 243.2,819.0 C241.1,832.0 238.7,850.8 237.4,860.0 C236.1,869.2 236.6,866.9 235.6,874.0 C234.6,881.1 232.8,893.1 231.3,902.7 C229.9,912.2 228.5,921.8 227.1,931.3 C225.7,940.9 224.2,950.4 222.8,960.0 C221.5,969.6 220.1,979.3 218.7,989.0 C217.3,998.7 216.0,1008.3 214.6,1018.0 C213.2,1027.7 211.2,1041.3 210.5,1047.0 C209.8,1052.7 210.5,1050.8 210.5,1052.0 C210.5,1053.2 210.5,1053.7 210.5,1054.0" fill="none" stroke="#cdbba6" stroke-width="2.6" opacity="0.8"/>
<path d="M285.7,686.0 C282.9,690.5 274.1,703.2 269.1,713.0 C264.0,722.8 258.9,733.5 255.5,745.0 C252.0,756.5 250.7,769.7 248.3,782.0 C245.9,794.3 243.3,806.0 241.1,819.0 C238.9,832.0 236.4,850.8 235.1,860.0 C233.8,869.2 234.3,866.9 233.2,874.0 C232.2,881.1 230.3,893.1 228.8,902.7 C227.4,912.2 225.9,921.8 224.4,931.3 C223.0,940.9 221.5,950.4 220.0,960.0 C218.6,969.6 217.2,979.3 215.7,989.0 C214.3,998.7 212.9,1008.3 211.5,1018.0 C210.0,1027.7 207.9,1041.3 207.2,1047.0 C206.5,1052.7 207.2,1050.8 207.2,1052.0 C207.2,1053.2 207.2,1053.7 207.2,1054.0" fill="none" stroke="#b5a28c" stroke-width="1.9" opacity="1"/>
<path d="M290.6,686.0 C288.8,690.5 283.1,703.2 279.8,713.0 C276.5,722.8 273.2,733.5 271.0,745.0 C268.7,756.5 267.8,769.7 266.3,782.0 C264.7,794.3 263.0,806.0 261.6,819.0 C260.2,832.0 258.5,850.8 257.7,860.0 C256.8,869.2 257.1,866.9 256.4,874.0 C255.8,881.1 254.5,893.1 253.6,902.7 C252.6,912.2 251.6,921.8 250.7,931.3 C249.7,940.9 248.8,950.4 247.8,960.0 C246.9,969.6 246.0,979.3 245.0,989.0 C244.1,998.7 243.2,1008.3 242.2,1018.0 C241.3,1027.7 239.9,1041.3 239.5,1047.0 C239.0,1052.7 239.5,1050.8 239.5,1052.0 C239.5,1053.2 239.5,1053.7 239.5,1054.0" fill="none" stroke="#efe3d3" stroke-width="5.8" opacity="1"/>
<path d="M289.6,686.0 C287.6,690.5 281.2,703.2 277.5,713.0 C273.8,722.8 270.1,733.5 267.6,745.0 C265.1,756.5 264.1,769.7 262.4,782.0 C260.7,794.3 258.8,806.0 257.2,819.0 C255.6,832.0 253.8,850.8 252.8,860.0 C251.8,869.2 252.2,866.9 251.4,874.0 C250.7,881.1 249.3,893.1 248.2,902.7 C247.1,912.2 246.1,921.8 245.0,931.3 C243.9,940.9 242.9,950.4 241.8,960.0 C240.8,969.6 239.7,979.3 238.7,989.0 C237.7,998.7 236.6,1008.3 235.6,1018.0 C234.6,1027.7 233.0,1041.3 232.5,1047.0 C232.0,1052.7 232.5,1050.8 232.5,1052.0 C232.5,1053.2 232.5,1053.7 232.5,1054.0" fill="none" stroke="#c8b6a1" stroke-width="2.6" opacity="0.8"/>
<path d="M289.1,686.0 C287.0,690.5 280.2,703.2 276.4,713.0 C272.6,722.8 268.7,733.5 266.0,745.0 C263.4,756.5 262.4,769.7 260.6,782.0 C258.7,794.3 256.8,806.0 255.1,819.0 C253.4,832.0 251.5,850.8 250.5,860.0 C249.5,869.2 249.9,866.9 249.1,874.0 C248.3,881.1 246.8,893.1 245.7,902.7 C244.6,912.2 243.5,921.8 242.3,931.3 C241.2,940.9 240.1,950.4 239.0,960.0 C237.9,969.6 236.8,979.3 235.7,989.0 C234.6,998.7 233.5,1008.3 232.5,1018.0 C231.4,1027.7 229.7,1041.3 229.2,1047.0 C228.7,1052.7 229.2,1050.8 229.2,1052.0 C229.2,1053.2 229.2,1053.7 229.2,1054.0" fill="none" stroke="#9f8c77" stroke-width="2.6" opacity="1"/>
<path d="M293.0,686.0 C291.7,690.5 287.4,703.2 284.9,713.0 C282.5,722.8 280.0,733.5 278.3,745.0 C276.6,756.5 276.0,769.7 274.8,782.0 C273.6,794.3 272.4,806.0 271.3,819.0 C270.2,832.0 269.0,850.8 268.4,860.0 C267.7,869.2 268.0,866.9 267.5,874.0 C266.9,881.1 266.0,893.1 265.3,902.7 C264.6,912.2 263.9,921.8 263.2,931.3 C262.5,940.9 261.7,950.4 261.0,960.0 C260.3,969.6 259.6,979.3 258.9,989.0 C258.2,998.7 257.5,1008.3 256.9,1018.0 C256.2,1027.7 255.1,1041.3 254.8,1047.0 C254.4,1052.7 254.8,1050.8 254.8,1052.0 C254.8,1053.2 254.8,1053.7 254.8,1054.0" fill="none" stroke="#eadccb" stroke-width="8.4" opacity="1"/>
<path d="M291.9,686.0 C290.4,690.5 285.4,703.2 282.6,713.0 C279.8,722.8 276.9,733.5 275.0,745.0 C273.0,756.5 272.3,769.7 270.9,782.0 C269.6,794.3 268.1,806.0 266.9,819.0 C265.7,832.0 264.2,850.8 263.5,860.0 C262.8,869.2 263.0,866.9 262.4,874.0 C261.9,881.1 260.8,893.1 260.0,902.7 C259.1,912.2 258.3,921.8 257.5,931.3 C256.7,940.9 255.8,950.4 255.0,960.0 C254.2,969.6 253.4,979.3 252.6,989.0 C251.8,998.7 251.0,1008.3 250.2,1018.0 C249.4,1027.7 248.2,1041.3 247.8,1047.0 C247.4,1052.7 247.8,1050.8 247.8,1052.0 C247.8,1053.2 247.8,1053.7 247.8,1054.0" fill="none" stroke="#cdbba6" stroke-width="2.6" opacity="0.8"/>
<path d="M291.4,686.0 C289.8,690.5 284.5,703.2 281.5,713.0 C278.5,722.8 275.5,733.5 273.4,745.0 C271.3,756.5 270.5,769.7 269.1,782.0 C267.7,794.3 266.1,806.0 264.8,819.0 C263.5,832.0 262.0,850.8 261.2,860.0 C260.4,869.2 260.7,866.9 260.1,874.0 C259.5,881.1 258.3,893.1 257.5,902.7 C256.6,912.2 255.7,921.8 254.8,931.3 C253.9,940.9 253.1,950.4 252.2,960.0 C251.3,969.6 250.5,979.3 249.6,989.0 C248.8,998.7 247.9,1008.3 247.1,1018.0 C246.2,1027.7 244.9,1041.3 244.5,1047.0 C244.1,1052.7 244.5,1050.8 244.5,1052.0 C244.5,1053.2 244.5,1053.7 244.5,1054.0" fill="none" stroke="#a8957f" stroke-width="2.0" opacity="1"/>
<path d="M296.1,686.0 C295.3,690.5 292.9,703.2 291.6,713.0 C290.2,722.8 288.8,733.5 287.8,745.0 C286.9,756.5 286.5,769.7 285.9,782.0 C285.2,794.3 284.5,806.0 283.9,819.0 C283.3,832.0 282.6,850.8 282.3,860.0 C281.9,869.2 282.1,866.9 281.8,874.0 C281.5,881.1 281.0,893.1 280.6,902.7 C280.2,912.2 279.8,921.8 279.4,931.3 C279.0,940.9 278.6,950.4 278.2,960.0 C277.8,969.6 277.4,979.3 277.0,989.0 C276.6,998.7 276.2,1008.3 275.8,1018.0 C275.4,1027.7 274.9,1041.3 274.7,1047.0 C274.5,1052.7 274.7,1050.8 274.7,1052.0 C274.7,1053.2 274.7,1053.7 274.7,1054.0" fill="none" stroke="#e6d8c5" stroke-width="7.6" opacity="1"/>
<path d="M295.0,686.0 C294.0,690.5 291.0,703.2 289.2,713.0 C287.5,722.8 285.7,733.5 284.5,745.0 C283.3,756.5 282.8,769.7 282.0,782.0 C281.2,794.3 280.3,806.0 279.5,819.0 C278.8,832.0 277.9,850.8 277.4,860.0 C277.0,869.2 277.1,866.9 276.8,874.0 C276.4,881.1 275.7,893.1 275.2,902.7 C274.7,912.2 274.2,921.8 273.7,931.3 C273.2,940.9 272.7,950.4 272.2,960.0 C271.7,969.6 271.2,979.3 270.7,989.0 C270.2,998.7 269.7,1008.3 269.2,1018.0 C268.7,1027.7 267.9,1041.3 267.7,1047.0 C267.5,1052.7 267.7,1050.8 267.7,1052.0 C267.7,1053.2 267.7,1053.7 267.7,1054.0" fill="none" stroke="#c8b6a1" stroke-width="2.6" opacity="0.8"/>
<path d="M294.5,686.0 C293.4,690.5 290.1,703.2 288.1,713.0 C286.2,722.8 284.3,733.5 282.9,745.0 C281.6,756.5 281.1,769.7 280.2,782.0 C279.3,794.3 278.3,806.0 277.4,819.0 C276.6,832.0 275.6,850.8 275.1,860.0 C274.6,869.2 274.8,866.9 274.4,874.0 C274.0,881.1 273.3,893.1 272.7,902.7 C272.1,912.2 271.6,921.8 271.0,931.3 C270.5,940.9 269.9,950.4 269.3,960.0 C268.8,969.6 268.2,979.3 267.7,989.0 C267.2,998.7 266.6,1008.3 266.1,1018.0 C265.5,1027.7 264.7,1041.3 264.4,1047.0 C264.1,1052.7 264.4,1050.8 264.4,1052.0 C264.4,1053.2 264.4,1053.7 264.4,1054.0" fill="none" stroke="#b5a28c" stroke-width="1.8" opacity="1"/>
<path d="M299.5,686.0 C299.4,690.5 299.1,703.2 299.0,713.0 C298.8,722.8 298.6,733.5 298.5,745.0 C298.4,756.5 298.4,769.7 298.3,782.0 C298.2,794.3 298.1,806.0 298.0,819.0 C298.0,832.0 297.9,850.8 297.8,860.0 C297.8,869.2 297.8,866.9 297.8,874.0 C297.7,881.1 297.7,893.1 297.6,902.7 C297.6,912.2 297.5,921.8 297.5,931.3 C297.4,940.9 297.4,950.4 297.3,960.0 C297.3,969.6 297.2,979.3 297.2,989.0 C297.1,998.7 297.1,1008.3 297.1,1018.0 C297.0,1027.7 296.9,1041.3 296.9,1047.0 C296.9,1052.7 296.9,1050.8 296.9,1052.0 C296.9,1053.2 296.9,1053.7 296.9,1054.0" fill="none" stroke="#efe3d3" stroke-width="5.9" opacity="1"/>
<path d="M298.4,686.0 C298.1,690.5 297.2,703.2 296.6,713.0 C296.1,722.8 295.5,733.5 295.2,745.0 C294.8,756.5 294.7,769.7 294.4,782.0 C294.1,794.3 293.9,806.0 293.6,819.0 C293.4,832.0 293.1,850.8 293.0,860.0 C292.8,869.2 292.9,866.9 292.8,874.0 C292.6,881.1 292.4,893.1 292.3,902.7 C292.1,912.2 292.0,921.8 291.8,931.3 C291.6,940.9 291.5,950.4 291.3,960.0 C291.2,969.6 291.0,979.3 290.9,989.0 C290.7,998.7 290.6,1008.3 290.4,1018.0 C290.2,1027.7 290.0,1041.3 289.9,1047.0 C289.9,1052.7 289.9,1050.8 289.9,1052.0 C289.9,1053.2 289.9,1053.7 289.9,1054.0" fill="none" stroke="#cdbba6" stroke-width="2.6" opacity="0.8"/>
<path d="M297.9,686.0 C297.5,690.5 296.3,703.2 295.6,713.0 C294.8,722.8 294.1,733.5 293.6,745.0 C293.1,756.5 292.9,769.7 292.6,782.0 C292.2,794.3 291.9,806.0 291.5,819.0 C291.2,832.0 290.9,850.8 290.7,860.0 C290.5,869.2 290.6,866.9 290.4,874.0 C290.3,881.1 290.0,893.1 289.8,902.7 C289.6,912.2 289.3,921.8 289.1,931.3 C288.9,940.9 288.7,950.4 288.5,960.0 C288.3,969.6 288.1,979.3 287.9,989.0 C287.7,998.7 287.5,1008.3 287.3,1018.0 C287.1,1027.7 286.8,1041.3 286.7,1047.0 C286.6,1052.7 286.7,1050.8 286.7,1052.0 C286.7,1053.2 286.7,1053.7 286.7,1054.0" fill="none" stroke="#9f8c77" stroke-width="2.5" opacity="1"/>
</g>
</g>
<ellipse cx="186" cy="1056.5" rx="5.5" ry="2.6" fill="#efebdf"/>
<ellipse cx="203" cy="1055.5" rx="5.5" ry="2.6" fill="#efebdf"/>
<ellipse cx="220" cy="1056.5" rx="5.5" ry="2.6" fill="#efebdf"/>
<ellipse cx="237" cy="1055.5" rx="5.5" ry="2.6" fill="#efebdf"/>
<ellipse cx="254" cy="1056.5" rx="5.5" ry="2.6" fill="#efebdf"/>
<ellipse cx="271" cy="1055.5" rx="5.5" ry="2.6" fill="#efebdf"/>
<ellipse cx="333" cy="1048.5" rx="4" ry="2" fill="#efebdf"/>
<ellipse cx="345" cy="1048.5" rx="4" ry="2" fill="#efebdf"/>
<polygon points="513.0,366.0 523.0,367.0 537.0,470.0 537.0,492.0 531.0,470.0" fill="#3b3937" />
<polygon points="535.5,369.0 551.0,372.0 552.5,964.0 537.0,964.0" fill="url(#bp)" />
<polygon points="549.0,962.0 560.0,964.5 558.0,967.5 547.0,966.0" fill="#9a9890" />
<polygon points="512.0,642.0 551.5,641.0 551.5,663.0 512.0,663.5" fill="url(#tb)" />
<line x1="523.5" y1="642.0" x2="523.5" y2="663.0" stroke="#c4b39e" stroke-width="1" />
<polygon points="343.0,331.0 356.0,333.0 327.0,455.0 324.0,428.0" fill="#3a3836" />
<polygon points="343.0,331.0 347.5,331.6 324.0,428.0 324.0,418.0" fill="#55524f" />
<polygon points="168.0,318.0 186.5,318.0 285.0,438.0 285.0,455.0" fill="#5b5957" />
<line x1="186.5" y1="318.0" x2="285.0" y2="438.0" stroke="#2b2725" stroke-width="1.6" />
<line x1="168.0" y1="318.0" x2="285.0" y2="455.0" stroke="#454240" stroke-width="1.2" />
<polygon points="284.0,300.0 317.5,306.0 318.5,1060.0 286.0,1060.0" fill="url(#mp1)" />
<polygon points="317.5,306.0 325.5,322.0 327.0,1060.0 318.5,1060.0" fill="url(#mp2)" />
<polygon points="285.0,681.0 318.5,681.0 318.5,1060.0 286.0,1060.0" fill="url(#mp3)" opacity="1"/>
<polygon points="278.0,1058.5 335.0,1058.5 333.0,1064.0 280.0,1064.0" fill="#3c3a39" />
<polygon points="266.0,649.0 282.0,652.0 282.0,688.0 267.0,686.0" fill="#f1e8d9" />
<polygon points="278.0,653.0 327.5,653.0 327.5,682.0 278.0,682.0" fill="url(#tf)" />
<polygon points="102.0,160.0 169.0,200.0 203.0,193.0 330.0,240.7 620.6,354.0 609.0,351.5 296.0,273.5 288.0,274.5 169.0,206.0" fill="url(#rfR)" />
<polygon points="215.0,206.0 330.0,252.0 470.0,320.0 300.0,272.0 190.0,212.0" fill="#e3e8ee" opacity="0.5" filter="url(#b2)"/>
<line x1="203.0" y1="193.0" x2="620.6" y2="354.0" stroke="#2e2d2f" stroke-width="2.2" />
<line x1="207.0" y1="201.5" x2="330.0" y2="250.6" stroke="#35363a" stroke-width="1.6" />
<line x1="330.0" y1="250.6" x2="475.6" y2="323.0" stroke="#35363a" stroke-width="1.8" />
<line x1="236.0" y1="216.0" x2="330.0" y2="250.6" stroke="#6f7d8e" stroke-width="0.8" />
<line x1="187.0" y1="207.0" x2="296.0" y2="232.0" stroke="#e4eaf0" stroke-width="1.0" opacity="0.7"/>
<line x1="187.0" y1="209.0" x2="290.0" y2="262.0" stroke="#dfe6ee" stroke-width="0.8" opacity="0.5"/>
<polygon points="-2.0,217.0 155.5,207.0 169.0,206.0 288.0,274.5 290.0,278.0 -2.0,292.5" fill="url(#rfF)" />
<polygon points="-2.0,240.0 140.0,225.0 240.0,262.0 240.0,281.0 -2.0,292.0" fill="url(#rfF2)" opacity="0.3" filter="url(#b4)"/>
<polygon points="102.0,160.0 112.0,160.0 185.0,207.0 295.6,274.3 288.0,274.5 169.0,206.0" fill="#b4c1d2" />
<polyline points="102,160 169,206 288,274.5" fill="none" stroke="#252a33" stroke-width="1.8"/>
<polyline points="113,160 185,207 295.6,274.3" fill="none" stroke="#2b303a" stroke-width="1.5"/>
<line x1="-2.0" y1="216.8" x2="160.0" y2="206.6" stroke="#4d5a6e" stroke-width="1.6" />
<polygon points="-2.0,160.0 99.0,155.0 103.0,160.0 170.0,206.0 -2.0,217.0" fill="url(#cup)" />
<polygon points="60.0,190.0 122.0,186.0 136.0,199.0 60.0,205.0" fill="#a9b1bf" opacity="0.45" filter="url(#b2)"/>
<line x1="-2.0" y1="211.5" x2="160.0" y2="202.0" stroke="#4a5567" stroke-width="1.2" />
<polygon points="92.0,136.0 216.5,169.5 204.0,207.0 188.0,209.0 169.0,206.0 98.0,158.0" fill="#6f5848" />
<polygon points="105.0,157.0 149.0,171.0 187.0,186.0 197.0,189.5 187.0,205.0 157.0,189.0 112.0,160.0" fill="#86695a" />
<polygon points="147.0,172.5 187.0,187.0 182.0,197.0 150.0,180.0" fill="#9a7a62" />
<polygon points="102.0,160.0 112.0,160.0 185.0,207.0 295.6,274.3 288.0,274.5 169.0,206.0" fill="#b4c1d2" />
<polyline points="102,160 169,206 288,274.5" fill="none" stroke="#252a33" stroke-width="1.8"/>
<polyline points="113,160 185,207 295.6,274.3" fill="none" stroke="#2b303a" stroke-width="1.5"/>
<polygon points="-2.0,140.0 95.0,133.0 89.0,157.0 -2.0,162.5" fill="url(#uw)" />
<polygon points="92.0,133.0 108.0,133.0 105.0,159.0 91.5,157.5" fill="#553c2d" />
<polygon points="107.0,132.0 157.5,146.0 149.0,171.0 105.5,157.0" fill="url(#uw2)" />
<polygon points="156.0,145.0 173.0,150.0 165.0,176.5 148.3,172.5" fill="#5b4030" />
<polygon points="172.5,150.0 202.0,159.0 196.8,172.5 168.0,173.5" fill="#b58a68" />
<polygon points="166.0,175.0 200.0,173.0 196.0,181.0 168.0,182.0" fill="#3a2c25" />
<polygon points="201.5,160.0 218.0,165.0 202.7,209.0 186.9,205.0" fill="#5d4535" />
<polygon points="216.0,166.0 242.0,174.0 232.0,180.0 213.0,177.0" fill="#4a3a30" />
<polygon points="-2.0,96.0 54.4,91.5 60.0,96.5 115.5,127.8 -2.0,136.2" fill="url(#urF)" />
<polygon points="-2.0,95.0 56.0,90.7 58.0,94.0 -2.0,101.0" fill="#8195b0" />
<line x1="54.0" y1="97.5" x2="-2.0" y2="122.5" stroke="#2a2f38" stroke-width="1.5" />
<line x1="41.0" y1="99.0" x2="-2.0" y2="109.0" stroke="#2a2f38" stroke-width="1.3" />
<line x1="-2.0" y1="101.0" x2="53.0" y2="96.5" stroke="#3a4352" stroke-width="1.2" />
<polygon points="56.0,90.7 72.5,95.6 103.8,103.0 248.2,169.5 240.0,166.6 123.0,129.5 115.5,127.8 60.0,96.5" fill="url(#urR)" />
<line x1="60.0" y1="93.0" x2="247.0" y2="169.5" stroke="#23262b" stroke-width="1.8" />
<line x1="75.0" y1="101.5" x2="240.0" y2="167.5" stroke="#30343b" stroke-width="1.3" />
<line x1="60.0" y1="96.5" x2="123.0" y2="129.5" stroke="#2a2f38" stroke-width="1.4" />
<polygon points="54.0,90.0 62.0,89.5 66.0,97.0 56.0,99.0" fill="#4a3d36" />
<polygon points="116.0,127.5 125.6,130.0 248.2,169.5 246.2,178.4 114.0,135.5" fill="url(#urFr)" />
<polygon points="240.0,167.0 248.5,169.5 246.3,178.6 239.0,176.5" fill="#2d2a29" />
<polygon points="-2.0,136.2 115.5,127.8 123.5,129.5 121.0,136.0 114.0,135.3 -2.0,143.5" fill="url(#urS)" />
<polygon points="296.0,273.5 609.0,351.5 620.6,354.0 617.5,361.5 593.0,357.0 302.0,289.0" fill="#504c49" />
<polygon points="281.0,290.0 302.6,288.0 589.0,357.5 593.5,361.0 591.5,374.0 583.0,377.5 273.0,311.0" fill="url(#gut)" />
<line x1="302.6" y1="288.2" x2="589.0" y2="357.6" stroke="#85847e" stroke-width="0.9" />
<line x1="448.0" y1="326.0" x2="441.0" y2="348.0" stroke="#2c2b2a" stroke-width="1.6" />
<line x1="273.0" y1="311.3" x2="583.0" y2="377.8" stroke="#d9d2c6" stroke-width="1.4" />
<polygon points="583.0,358.0 593.5,361.0 591.5,374.0 583.0,377.5 580.0,370.0" fill="#2f2e2d" />
<polygon points="-2.0,292.3 290.0,277.3 303.5,275.5 299.6,288.0 281.0,290.0 273.0,311.5 -2.0,320.5" fill="#3d3026" />
<polygon points="-2.0,292.3 290.0,277.3 289.0,285.5 -2.0,300.7" fill="url(#fas)" />
<polygon points="289.7,277.3 303.5,275.3 299.6,287.5 290.7,287.5" fill="#6a4a34" />
<circle cx="297.5" cy="282" r="1.3" fill="#e8ddc8"/>
<line x1="-2.0" y1="320.0" x2="273.0" y2="311.5" stroke="#2e241e" stroke-width="1.4" />
</g>
<path d="M781.3,69.5 Q782.8,61.6 790.8,61.6 L1162.4,61.6 Q1170.4,61.6 1169.1,69.5 L1126.1,328.6 Q1124.8,336.5 1116.8,336.5 L737.8,336.5 Q729.8,336.5 731.3,328.6 Z" fill="#fcb60a" />
<path d="M791.5,60.5 Q793.0,52.6 801.0,52.6 L1172.6,52.6 Q1180.6,52.6 1179.3,60.5 L1136.3,319.6 Q1135.0,327.5 1127.0,327.5 L748.0,327.5 Q740.0,327.5 741.5,319.6 Z" fill="#ffffff" stroke="#fcb60a" stroke-width="1.3"/>
<g clip-path="url(#pc1)">
<polygon points="927.0,45.0 977.5,45.0 979.0,170.0 938.0,170.0" fill="url(#q1a)" />
<polygon points="977.5,45.0 1017.0,45.0 1010.0,170.0 979.0,170.0" fill="url(#q1b)" />
<line x1="938.0" y1="45.0" x2="944.0" y2="170.0" stroke="#553f27" stroke-width="1.2" opacity="0.75"/>
<line x1="951.0" y1="45.0" x2="955.0" y2="170.0" stroke="#553f27" stroke-width="1.2" opacity="0.75"/>
<line x1="962.0" y1="45.0" x2="965.0" y2="170.0" stroke="#553f27" stroke-width="1.2" opacity="0.75"/>
<line x1="970.0" y1="45.0" x2="972.0" y2="170.0" stroke="#553f27" stroke-width="1.2" opacity="0.75"/>
<line x1="988.0" y1="45.0" x2="987.5" y2="170.0" stroke="#6f4f2b" stroke-width="1.1" opacity="0.75"/>
<line x1="998.0" y1="45.0" x2="996.0" y2="170.0" stroke="#6f4f2b" stroke-width="1.1" opacity="0.75"/>
<polygon points="947.0,235.0 980.0,245.0 979.0,335.0 949.5,335.0" fill="url(#q1c)" />
<polygon points="980.0,245.0 1010.0,232.0 1005.0,335.0 979.0,335.0" fill="url(#q1d)" />
<line x1="958.0" y1="240.0" x2="958.5" y2="335.0" stroke="#4e3920" stroke-width="1.2" opacity="0.7"/>
<line x1="968.0" y1="240.0" x2="968.5" y2="335.0" stroke="#4e3920" stroke-width="1.2" opacity="0.7"/>
<line x1="989.0" y1="238.0" x2="988.2" y2="335.0" stroke="#6b4b26" stroke-width="1.1" opacity="0.7"/>
<line x1="997.0" y1="238.0" x2="996.2" y2="335.0" stroke="#6b4b26" stroke-width="1.1" opacity="0.7"/>
<path d="M877,45 L927,45 L931,100 L942,160 L957,161 L905,146 C900,110 886,80 877,45 Z" fill="#e7ded0" />
<path d="M888,45 L895,45 C899,90 908,120 918,149 L912,147 C902,115 893,85 888,45Z" fill="#d3c6b3" filter="url(#p1)"/>
<path d="M903,45 L909,45 C912,90 920,125 930,153 L925,151 C914,120 906,85 903,45Z" fill="#cbbca7" filter="url(#p1)"/>
<path d="M918,45 L927,45 L931,100 L942,159 C931,125 922,90 918,45Z" fill="#bcab94" filter="url(#p1)"/>
<path d="M900,45 C903,90 912,125 921,152" fill="none" stroke="#7d6852" stroke-width="0.9" opacity="0.8"/>
<path d="M914.5,45 C917.5,90 925,125 934,152" fill="none" stroke="#7d6852" stroke-width="0.9" opacity="0.8"/>
<path d="M1011,45 L1061,45 C1056,85 1046,115 1034,140 L979,163 L1009,150 Z" fill="#eae2d5" />
<path d="M1019,45 L1026,45 C1026,90 1021,120 1014,150 L1008,152 C1015,120 1019,90 1019,45Z" fill="#cdbfab" filter="url(#p1)"/>
<path d="M1036,45 L1041,45 C1040,85 1034,115 1025,145 L1020,147 C1029,115 1035,85 1036,45Z" fill="#d4c7b4" filter="url(#p1)"/>
<path d="M1048,45 L1052,45 C1050,80 1044,110 1035,138 L1031,140 C1041,110 1047,80 1048,45Z" fill="#d9cdbb" filter="url(#p1)"/>
<path d="M1031,45 C1030,85 1025,115 1017,147" fill="none" stroke="#7d6852" stroke-width="0.9" opacity="0.7"/>
<path d="M906,224 C891,257 871,297 855,335 L951,335 L958,250 Z" fill="#e8dfd1" />
<path d="M918,230 C907,264 891,302 879,335 L887,335 C899,302 914,264 926,234Z" fill="#cbbda9" filter="url(#p1)"/>
<path d="M935,240 C928,272 918,307 911,335 L920,335 C926,307 935,272 943,244Z" fill="#bfaf99" filter="url(#p1)"/>
<path d="M948,246 C946,275 944,305 943,335 L951,335 L958,250Z" fill="#9e8a70" filter="url(#p1)"/>
<path d="M896,247 C885,277 873,307 863,335 L869,335 C879,307 891,277 902,249Z" fill="#f3ede3" filter="url(#p1)"/>
<path d="M909,236 C900,268 888,303 878,335" fill="none" stroke="#6e5a45" stroke-width="1" opacity="0.75"/>
<path d="M931,240 C924,272 914,307 907,335" fill="none" stroke="#6e5a45" stroke-width="1" opacity="0.7"/>
<path d="M980,254 L1034,221 C1046,260 1062,300 1078,335 L1004,335 L1004,250 Z" fill="#e9e1d3" />
<path d="M1010,246 C1012,280 1016,310 1021,335 L1030,335 C1023,305 1017,275 1016,244Z" fill="#c8b9a4" filter="url(#p1)"/>
<path d="M1021,238 C1027,272 1037,305 1047,335 L1055,335 C1043,303 1033,270 1028,235Z" fill="#d1c3af" filter="url(#p1)"/>
<path d="M1031,232 C1040,262 1053,300 1067,335 L1071,335 C1057,298 1045,262 1035,229Z" fill="#dacebc" filter="url(#p1)"/>
<path d="M1003,252 L1010,246 C1011,280 1012,310 1015,335 L1004,335Z" fill="#98856c" filter="url(#p1)"/>
<path d="M1019,240 C1024,272 1033,305 1043,335" fill="none" stroke="#6e5a45" stroke-width="1" opacity="0.7"/>
<polygon points="904.7,142.4 957.4,160.5 957.4,248.6 906.4,225.5" fill="url(#tie1)" />
<polygon points="960.0,161.0 978.8,162.2 1033.0,143.0 1034.0,219.8 980.5,253.5 960.7,247.8" fill="url(#tie2)" />
<line x1="938.0" y1="154.0" x2="939.0" y2="240.0" stroke="#c9c0b3" stroke-width="1" />
<polygon points="957.0,160.3 961.5,161.2 962.0,248.5 957.4,248.6" fill="#4a4540" />
<line x1="904.7" y1="142.4" x2="957.4" y2="160.5" stroke="#c1b8aa" stroke-width="0.9" />
<line x1="978.8" y1="162.2" x2="1033.0" y2="143.0" stroke="#cdc4b6" stroke-width="0.9" />
<line x1="906.4" y1="225.5" x2="957.4" y2="248.6" stroke="#bdb3a4" stroke-width="0.9" />
<line x1="980.5" y1="253.5" x2="1034.0" y2="219.8" stroke="#c4baab" stroke-width="0.9" />
</g>
<path d="M781.2,479.6 Q782.7,471.7 790.7,471.7 L1160.3,471.7 Q1168.3,471.7 1167.1,479.6 L1126.0,736.7 Q1124.7,744.6 1116.7,744.6 L737.7,744.6 Q729.7,744.6 731.3,736.7 Z" fill="#fcb60a" />
<path d="M791.5,470.5 Q793.0,462.6 801.0,462.6 L1170.6,462.6 Q1178.6,462.6 1177.3,470.5 L1136.3,727.6 Q1135.0,735.5 1127.0,735.5 L748.0,735.5 Q740.0,735.5 741.5,727.6 Z" fill="#ffffff" stroke="#fcb60a" stroke-width="1.3"/>
<g clip-path="url(#pc2)">
<path d="M820,545 L949,555 L949,740 L856,740 C846,690 836,640 828,561 Z" fill="#d9d1c5" />
<path d="M838,548 C840,610 846,680 850,740 L855,740 C851,680 845,610 843,548Z" fill="#aaa093" filter="url(#p1)"/>
<path d="M856,548 C858,610 864,680 868,740 L873,740 C869,680 863,610 861,548Z" fill="#b8aea1" filter="url(#p1)"/>
<path d="M873,548 C875,610 881,680 885,740 L890,740 C886,680 880,610 878,548Z" fill="#9f958a" filter="url(#p1)"/>
<path d="M891,548 C893,610 899,680 903,740 L908,740 C904,680 898,610 896,548Z" fill="#b3a99c" filter="url(#p1)"/>
<path d="M908,548 C910,610 916,680 920,740 L925,740 C921,680 915,610 913,548Z" fill="#a39a8e" filter="url(#p1)"/>
<path d="M926,548 C928,610 934,680 938,740 L943,740 C939,680 933,610 931,548Z" fill="#b5ab9f" filter="url(#p1)"/>
<path d="M941,548 C943,610 949,680 953,740 L958,740 C954,680 948,610 946,548Z" fill="#948a7e" filter="url(#p1)"/>
<path d="M847,548 C849,610 854,680 858,740 L862,740 C858,680 853,610 851,548Z" fill="#e6e0d6" filter="url(#p1)"/>
<path d="M882,548 C884,610 889,680 893,740 L897,740 C893,680 888,610 886,548Z" fill="#e6e0d6" filter="url(#p1)"/>
<path d="M917,548 C919,610 924,680 928,740 L932,740 C928,680 923,610 921,548Z" fill="#e6e0d6" filter="url(#p1)"/>
<path d="M1012,548 L1094,546 C1092,600 1086,660 1076,740 L1012,740 Z" fill="#dbd4c9" />
<path d="M1022,548 C1021,610 1018,680 1014,740 L1019,740 C1023,680 1026,610 1027,548Z" fill="#9e9489" filter="url(#p1)"/>
<path d="M1036,548 C1035,610 1032,680 1028,740 L1033,740 C1037,680 1040,610 1041,548Z" fill="#b6aca0" filter="url(#p1)"/>
<path d="M1050,548 C1049,610 1046,680 1042,740 L1047,740 C1051,680 1054,610 1055,548Z" fill="#a59b8f" filter="url(#p1)"/>
<path d="M1064,548 C1063,610 1060,680 1056,740 L1061,740 C1065,680 1068,610 1069,548Z" fill="#b9afa3" filter="url(#p1)"/>
<path d="M1078,548 C1077,610 1074,680 1070,740 L1075,740 C1079,680 1082,610 1083,548Z" fill="#a1978b" filter="url(#p1)"/>
<path d="M1029,548 C1028,610 1026,680 1022,740 L1026,740 C1030,680 1032,610 1033,548Z" fill="#e8e2d8" filter="url(#p1)"/>
<path d="M1057,548 C1056,610 1054,680 1050,740 L1054,740 C1058,680 1060,610 1061,548Z" fill="#e8e2d8" filter="url(#p1)"/>
<polygon points="780.0,455.0 967.0,455.0 1008.6,523.0 780.0,518.0" fill="url(#g2a)" />
<polygon points="967.0,455.0 1185.0,455.0 1185.0,503.0 1008.6,523.0" fill="url(#g2b)" />
<line x1="968.0" y1="455.0" x2="1006.0" y2="521.0" stroke="#c3c6cc" stroke-width="3.2" />
<line x1="966.0" y1="455.0" x2="1003.0" y2="521.0" stroke="#7a624f" stroke-width="0.9" />
<line x1="969.0" y1="455.0" x2="1010.0" y2="521.0" stroke="#c3ccd9" stroke-width="1.0" opacity="0.7"/>
<polygon points="770.0,514.0 906.0,515.0 1002.0,521.0 1009.0,524.5 1178.0,504.0 1178.0,537.0 997.0,556.0 815.0,538.0 770.0,531.0" fill="#4c3325" />
<polygon points="770.0,514.0 906.0,515.0 1002.0,521.0 1002.0,529.0 906.0,523.0 770.0,521.0" fill="#6e4c33" />
<polygon points="1009.0,524.5 1178.0,504.0 1178.0,511.0 1006.0,532.0" fill="#6a4a33" />
<polygon points="997.0,531.0 1009.0,524.5 1016.0,530.0 1006.0,540.0" fill="#7a573c" />
<circle cx="1003.5" cy="529.5" r="2.6" fill="#2a2320"/><circle cx="1003" cy="529" r="1" fill="#8d8a86"/>
<line x1="815.0" y1="538.5" x2="997.0" y2="556.0" stroke="#2f211a" stroke-width="1.5" />
<line x1="997.0" y1="556.0" x2="1170.0" y2="536.0" stroke="#2f211a" stroke-width="1.5" />
<polygon points="949.0,551.0 991.0,555.0 991.0,740.0 949.0,740.0" fill="url(#q2a)" />
<line x1="957.0" y1="553.0" x2="957.0" y2="740.0" stroke="#54402f" stroke-width="1.1" opacity="0.75"/>
<line x1="966.0" y1="553.0" x2="966.0" y2="740.0" stroke="#54402f" stroke-width="1.1" opacity="0.75"/>
<line x1="975.0" y1="553.0" x2="975.0" y2="740.0" stroke="#54402f" stroke-width="1.1" opacity="0.75"/>
<line x1="983.0" y1="553.0" x2="983.0" y2="740.0" stroke="#54402f" stroke-width="1.1" opacity="0.75"/>
<polygon points="991.0,555.0 1013.0,553.0 1013.0,740.0 991.0,740.0" fill="url(#q2b)" />
<g filter="url(#grain)" opacity="0.4"><polygon points="949,551 991,555 991,740 949,740" fill="#cbb9a3"/></g>
<polygon points="815.0,538.0 824.0,538.0 949.0,692.0 949.0,708.0" fill="#6d4d34" />
<line x1="819.5" y1="538.0" x2="949.0" y2="698.0" stroke="#a58666" stroke-width="1.2" />
<line x1="815.0" y1="538.0" x2="949.0" y2="708.0" stroke="#3b2a1f" stroke-width="1.2" />
<polygon points="1106.0,541.0 1117.0,540.0 1014.0,708.0 1013.0,690.0" fill="#6a4b33" />
<line x1="1110.0" y1="541.0" x2="1013.5" y2="696.0" stroke="#9c7d5f" stroke-width="1.1" />
<line x1="1117.0" y1="540.0" x2="1014.0" y2="708.0" stroke="#3a291f" stroke-width="1.2" />
<polygon points="836,541.5 947,556 947,697" fill="none" stroke="#3a2a10" stroke-width="6.5" stroke-dasharray="11 6.5" filter="url(#glow)" opacity="0.55"/>
<polygon points="836,541.5 947,556 947,697" fill="none" stroke="#ffe02a" stroke-width="4" stroke-dasharray="11 6.5" stroke-linejoin="round"/>
<polygon points="1015.6,557 1100,544 1016.6,695" fill="none" stroke="#c79a10" stroke-width="11" filter="url(#glow)" opacity="0.7" stroke-linejoin="round"/>
<polygon points="1015.6,557 1100,544 1016.6,695" fill="none" stroke="#ffe01c" stroke-width="8.4" stroke-linejoin="round"/>
</g>
<path d="M781.3,860.2 Q782.9,852.3 790.9,852.3 L1160.5,852.3 Q1168.5,852.3 1167.2,860.2 L1126.1,1118.6 Q1124.9,1126.5 1116.9,1126.5 L737.9,1126.5 Q729.9,1126.5 731.4,1118.6 Z" fill="#fcb60a" />
<path d="M791.5,851.7 Q793.0,843.8 801.0,843.8 L1170.6,843.8 Q1178.6,843.8 1177.3,851.7 L1136.3,1110.1 Q1135.0,1118.0 1127.0,1118.0 L748.0,1118.0 Q740.0,1118.0 741.5,1110.1 Z" fill="#ffffff" stroke="#fcb60a" stroke-width="1.3"/>
<g clip-path="url(#pc3)">
<path d="M850.5,996.0 C851.5,993.7 851.8,987.3 856.4,982.0 C861.0,976.7 869.8,970.6 878.0,964.4 C886.2,958.2 887.1,949.1 905.8,944.7 C924.5,940.3 960.7,936.0 990.0,938.0 C1019.3,940.0 1062.2,951.4 1081.8,956.5 C1101.4,961.6 1100.9,963.1 1107.5,968.4 C1114.1,973.6 1118.7,982.1 1121.3,988.0 C1123.9,993.9 1124.3,997.4 1123.3,1004.0 C1122.3,1010.6 1120.0,1019.8 1115.4,1027.7 C1110.8,1035.6 1103.5,1043.5 1095.6,1051.4 C1087.7,1059.3 1077.9,1067.7 1068.0,1075.0 C1058.1,1082.3 1046.8,1089.4 1036.3,1095.0 C1025.8,1100.6 1014.6,1105.8 1004.7,1108.8 C994.8,1111.8 985.6,1112.7 977.0,1112.7 C968.4,1112.7 961.9,1112.4 953.3,1108.8 C944.7,1105.2 935.5,1098.6 925.6,1091.0 C915.7,1083.4 903.9,1072.5 894.0,1063.3 C884.1,1054.1 873.2,1044.2 866.3,1035.6 C859.4,1027.0 855.1,1018.5 852.5,1011.9 C849.9,1005.3 850.8,998.6 850.5,996.0 Z" fill="#5d5147" />
<g clip-path="url(#cplate)">
<path d="M905.0,945.0 C900.5,950.0 881.0,965.6 878.0,975.0 C875.0,984.4 880.2,990.3 886.7,1001.5 C893.2,1012.7 905.4,1029.1 917.0,1042.0 C928.6,1054.9 946.4,1071.8 956.5,1079.0 C966.6,1086.2 967.9,1086.3 977.6,1085.0 C987.3,1083.7 999.6,1079.0 1014.5,1071.0 C1029.4,1063.0 1053.8,1045.7 1067.0,1037.0 C1080.2,1028.3 1087.3,1024.8 1093.6,1018.6 C1099.9,1012.4 1106.9,1010.4 1105.0,1000.0 C1103.1,989.6 1085.8,963.3 1082.0,956.0 Z" fill="#6b5f54" />
<path d="M878.0,975.0 C879.5,979.4 880.2,990.3 886.7,1001.5 C893.2,1012.7 905.4,1029.1 917.0,1042.0 C928.6,1054.9 946.4,1071.8 956.5,1079.0 C966.6,1086.2 967.9,1086.3 977.6,1085.0 C987.3,1083.7 999.6,1079.0 1014.5,1071.0 C1029.4,1063.0 1053.8,1045.7 1067.0,1037.0 C1080.2,1028.3 1087.3,1024.8 1093.6,1018.6 C1099.9,1012.4 1103.1,1003.1 1105.0,1000.0" fill="none" stroke="#4f3f33" stroke-width="9" opacity="0.55" filter="url(#p2)" transform="translate(-3,7)"/>
<path d="M878.0,975.0 C879.5,979.4 880.2,990.3 886.7,1001.5 C893.2,1012.7 905.4,1029.1 917.0,1042.0 C928.6,1054.9 946.4,1071.8 956.5,1079.0 C966.6,1086.2 967.9,1086.3 977.6,1085.0 C987.3,1083.7 999.6,1079.0 1014.5,1071.0 C1029.4,1063.0 1053.8,1045.7 1067.0,1037.0 C1080.2,1028.3 1087.3,1024.8 1093.6,1018.6 C1099.9,1012.4 1103.1,1003.1 1105.0,1000.0" fill="none" stroke="#c9c2bd" stroke-width="5" opacity="0.6" filter="url(#p2)"/>
<path d="M878.0,975.0 C879.5,979.4 880.2,990.3 886.7,1001.5 C893.2,1012.7 905.4,1029.1 917.0,1042.0 C928.6,1054.9 946.4,1071.8 956.5,1079.0 C966.6,1086.2 967.9,1086.3 977.6,1085.0 C987.3,1083.7 999.6,1079.0 1014.5,1071.0 C1029.4,1063.0 1053.8,1045.7 1067.0,1037.0 C1080.2,1028.3 1087.3,1024.8 1093.6,1018.6 C1099.9,1012.4 1103.1,1003.1 1105.0,1000.0" fill="none" stroke="#eeeaea" stroke-width="1.6" opacity="0.4" filter="url(#p1)"/>
<path d="M1123.3,1004.0 C1122.0,1008.0 1120.0,1019.8 1115.4,1027.7 C1110.8,1035.6 1103.5,1043.5 1095.6,1051.4 C1087.7,1059.3 1077.9,1067.7 1068.0,1075.0 C1058.1,1082.3 1046.8,1089.4 1036.3,1095.0 C1025.8,1100.6 1014.6,1105.8 1004.7,1108.8 C994.8,1111.8 985.6,1112.7 977.0,1112.7 C968.4,1112.7 961.9,1112.4 953.3,1108.8 C944.7,1105.2 935.5,1098.6 925.6,1091.0 C915.7,1083.4 903.9,1072.5 894.0,1063.3 C884.1,1054.1 873.2,1044.2 866.3,1035.6 C859.4,1027.0 854.8,1015.8 852.5,1011.9" fill="none" stroke="#a08c77" stroke-width="2.2" opacity="0.6" filter="url(#p1)"/>
</g>
<path d="M899,990 L906,985 L975,1052 L1071,998 L1077,1006 L977,1071 Z" fill="#43342a" />
<polygon points="902.0,838.0 969.0,838.0 975.0,1060.0 906.0,992.0" fill="url(#q3a)" />
<polygon points="969.0,838.0 1081.8,838.0 1069.0,1004.0 975.0,1060.0" fill="url(#q3b)" />
<line x1="911.0" y1="838.0" x2="915.0" y2="1000.9" stroke="#382c24" stroke-width="1.5" />
<line x1="929.0" y1="838.0" x2="934.0" y2="1019.6" stroke="#382c24" stroke-width="1.5" />
<line x1="948.0" y1="838.0" x2="954.0" y2="1039.3" stroke="#382c24" stroke-width="1.5" />
<line x1="996.0" y1="838.0" x2="999.0" y2="1045.7" stroke="#43362c" stroke-width="1.5" />
<line x1="1023.0" y1="838.0" x2="1023.0" y2="1031.4" stroke="#43362c" stroke-width="1.5" />
<line x1="1050.0" y1="838.0" x2="1046.0" y2="1017.7" stroke="#43362c" stroke-width="1.5" />
<line x1="1068.0" y1="838.0" x2="1060.0" y2="1009.3" stroke="#43362c" stroke-width="1.5" />
<line x1="969.0" y1="838.0" x2="975.0" y2="1060.0" stroke="#ad9a84" stroke-width="1.8" opacity="0.75"/>
<g filter="url(#grain)" opacity="0.5"><path d="M850.5,996.0 C851.5,993.7 851.8,987.3 856.4,982.0 C861.0,976.7 869.8,970.6 878.0,964.4 C886.2,958.2 887.1,949.1 905.8,944.7 C924.5,940.3 960.7,936.0 990.0,938.0 C1019.3,940.0 1062.2,951.4 1081.8,956.5 C1101.4,961.6 1100.9,963.1 1107.5,968.4 C1114.1,973.6 1118.7,982.1 1121.3,988.0 C1123.9,993.9 1124.3,997.4 1123.3,1004.0 C1122.3,1010.6 1120.0,1019.8 1115.4,1027.7 C1110.8,1035.6 1103.5,1043.5 1095.6,1051.4 C1087.7,1059.3 1077.9,1067.7 1068.0,1075.0 C1058.1,1082.3 1046.8,1089.4 1036.3,1095.0 C1025.8,1100.6 1014.6,1105.8 1004.7,1108.8 C994.8,1111.8 985.6,1112.7 977.0,1112.7 C968.4,1112.7 961.9,1112.4 953.3,1108.8 C944.7,1105.2 935.5,1098.6 925.6,1091.0 C915.7,1083.4 903.9,1072.5 894.0,1063.3 C884.1,1054.1 873.2,1044.2 866.3,1035.6 C859.4,1027.0 855.1,1018.5 852.5,1011.9 C849.9,1005.3 850.8,998.6 850.5,996.0 Z" fill="#b9aea2"/><polygon points="902,838 1081.8,838 1069,1004 975,1060 906,992" fill="#c9b8a3"/></g>
<circle cx="941.4" cy="1016" r="4.6" fill="#4b4540"/><circle cx="941.4" cy="1016" r="3.2" fill="#b9bcc0"/><circle cx="940.6" cy="1015.2" r="1.3" fill="#eef0f2"/>
<circle cx="1024.5" cy="1023" r="4.6" fill="#4b4540"/><circle cx="1024.5" cy="1023" r="3.2" fill="#b9bcc0"/><circle cx="1023.7" cy="1022.2" r="1.3" fill="#eef0f2"/>
<ellipse cx="906.6" cy="1051.5" rx="5.2" ry="3.8" fill="#fff" transform="rotate(-20 906.6 1051.5)"/>
<ellipse cx="1054" cy="1064" rx="5" ry="3.7" fill="#fff" transform="rotate(-25 1054 1064)"/>
<ellipse cx="885" cy="986" rx="2.6" ry="1.3" fill="#e9e2d8" transform="rotate(-40 885 986)"/>
<rect x="816.4" y="913.0" width="4.2" height="15.6" fill="url(#an818)"/>
<rect x="812.8" y="917.7" width="11.4" height="5.5" rx="1" fill="url(#an818)" stroke="#777a7e" stroke-width="0.5"/>
<rect x="811.4" y="923.9" width="14.2" height="2.7" fill="#a9acb0"/>
<rect x="813.8" y="927.8" width="9.5" height="63.2" rx="2.5" fill="url(#an818)" stroke="#8a8d91" stroke-width="0.5"/>
<line x1="819.0" y1="955.9" x2="819.0" y2="990.0" stroke="#75787c" stroke-width="0.8" />
<rect x="1131.4" y="903.0" width="4.2" height="15.4" fill="url(#an1133)"/>
<rect x="1127.8" y="907.6" width="11.4" height="5.4" rx="1" fill="url(#an1133)" stroke="#777a7e" stroke-width="0.5"/>
<rect x="1126.4" y="913.8" width="14.2" height="2.7" fill="#a9acb0"/>
<rect x="1128.8" y="917.6" width="9.5" height="62.4" rx="2.5" fill="url(#an1133)" stroke="#8a8d91" stroke-width="0.5"/>
<line x1="1134.0" y1="945.4" x2="1134.0" y2="979.0" stroke="#75787c" stroke-width="0.8" />
<path d="M835.3,968 C842,973 848,978.5 854,984 C863,992 872,1001 880.4,1009.4 L887,1001 C892,1016 896,1031 897.7,1044.9 C884,1040 870,1033 857.7,1025 L867,1021 C857,1008 847,992 835.3,968 Z" fill="#fcb60f" />
<path d="M1114.7,969 C1104,985 1097,1005 1091,1026 L1101.5,1028.6 C1089,1038 1076,1046 1064,1053.4 C1064,1038 1065,1023 1068.5,1009.4 L1076.5,1016 C1087,999 1100,983 1114.7,969 Z" fill="#fcb60f" />
</g>
<g id="textgrp" opacity="0.999">
<rect x="587.8" y="63.4" width="319.2" height="51.6" rx="25.8" fill="#242424" fill-opacity="0.87"/>
<text x="594.9" y="103.8" font-size="41" font-weight="700" fill="#ffffff">•</text>
<text x="614.2" y="100.4" font-size="34.6" font-weight="700" fill="#ffffff" textLength="279" lengthAdjust="spacingAndGlyphs">Aluminum Frame</text>
<rect x="587.8" y="472.9" width="319.2" height="51.6" rx="25.8" fill="#242424" fill-opacity="0.87"/>
<text x="594.9" y="513.3" font-size="41" font-weight="700" fill="#ffffff">•</text>
<text x="614.2" y="509" font-size="34.6" font-weight="700" fill="#ffffff" textLength="285.6" lengthAdjust="spacingAndGlyphs">Sturdy Triangular</text>
<rect x="587.8" y="852.7" width="319.2" height="51.6" rx="25.8" fill="#242424" fill-opacity="0.87"/>
<text x="594.9" y="893.1" font-size="41" font-weight="700" fill="#ffffff">•</text>
<text x="614.2" y="889" font-size="34.6" font-weight="700" fill="#ffffff" textLength="282" lengthAdjust="spacingAndGlyphs">Anchoring Plates</text>
<text x="936.5" y="373.3" font-size="26" fill="#1d1d1d" text-anchor="middle" textLength="393" lengthAdjust="spacing">Weather-resistant and prevents</text>
<text x="936" y="408.9" font-size="26" fill="#1d1d1d" text-anchor="middle" textLength="301.5" lengthAdjust="spacing">fade, rust, and corrosion</text>
<text x="943.8" y="778.8" font-size="26" fill="#1d1d1d" text-anchor="middle" textLength="277" lengthAdjust="spacing">Ensure overall stability</text>
<text x="943.3" y="1156.2" font-size="26" fill="#1d1d1d" text-anchor="middle" textLength="307" lengthAdjust="spacing">Pre-drilled holes for easy</text>
<text x="942.4" y="1190.7" font-size="26" fill="#1d1d1d" text-anchor="middle" textLength="245.3" lengthAdjust="spacing">mounting and fixing</text>
</g>
</svg>
</body></html>
